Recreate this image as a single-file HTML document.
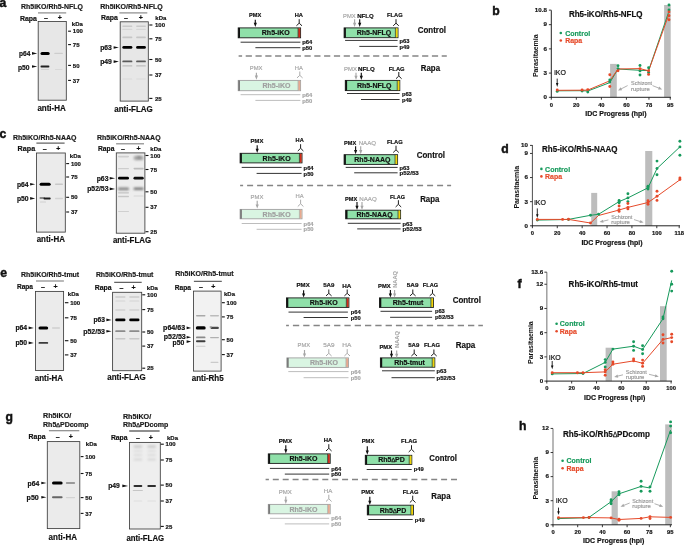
<!DOCTYPE html><html><head><meta charset="utf-8"><style>html,body{margin:0;padding:0;background:#fff;overflow:hidden}svg{display:block;will-change:transform;filter:blur(0.3px)}text{font-family:"Liberation Sans", sans-serif}</style></head><body>
<svg width="685" height="545" viewBox="0 0 685 545">
<defs><filter id="bl" x="-20%" y="-100%" width="140%" height="300%"><feGaussianBlur stdDeviation="0.5"/></filter><filter id="bl2" x="-30%" y="-150%" width="160%" height="400%"><feGaussianBlur stdDeviation="0.9"/></filter><filter id="bl3" x="-40%" y="-200%" width="180%" height="500%"><feGaussianBlur stdDeviation="1.5"/></filter></defs>
<rect width="685" height="545" fill="#fff"/>
<text x="-0.60" y="6.90" font-size="12.2" font-weight="bold" fill="#111" text-anchor="start" stroke="#111" stroke-width="0.45">a</text>
<text x="492.30" y="14.70" font-size="12.2" font-weight="bold" fill="#111" text-anchor="start" stroke="#111" stroke-width="0.45">b</text>
<text x="-0.60" y="138.00" font-size="12.2" font-weight="bold" fill="#111" text-anchor="start" stroke="#111" stroke-width="0.45">c</text>
<text x="501.20" y="153.00" font-size="12.2" font-weight="bold" fill="#111" text-anchor="start" stroke="#111" stroke-width="0.45">d</text>
<text x="0.30" y="277.40" font-size="12.2" font-weight="bold" fill="#111" text-anchor="start" stroke="#111" stroke-width="0.45">e</text>
<text x="517.40" y="288.00" font-size="12.2" font-weight="bold" fill="#111" text-anchor="start" stroke="#111" stroke-width="0.45">f</text>
<text x="5.50" y="420.50" font-size="12.2" font-weight="bold" fill="#111" text-anchor="start" stroke="#111" stroke-width="0.45">g</text>
<text x="519.00" y="430.30" font-size="12.2" font-weight="bold" fill="#111" text-anchor="start" stroke="#111" stroke-width="0.45">h</text>
<text x="21.00" y="9.03" font-size="6.8" font-weight="bold" fill="#1a1a1a" text-anchor="start" textLength="61.90" lengthAdjust="spacingAndGlyphs" stroke="#1a1a1a" stroke-width="0.18">Rh5iKO/Rh5-NFLQ</text>
<line x1="38.00" y1="12.90" x2="66.20" y2="12.90" stroke="#8a8a8a" stroke-width="1.2"/>
<text x="19.90" y="20.61" font-size="7.0" font-weight="bold" fill="#111" text-anchor="start" textLength="17.00" lengthAdjust="spacingAndGlyphs" stroke="#111" stroke-width="0.18">Rapa</text>
<text x="46.00" y="20.11" font-size="7.0" font-weight="bold" fill="#111" text-anchor="middle" stroke="#111" stroke-width="0.18">–</text>
<text x="59.90" y="20.11" font-size="7.0" font-weight="bold" fill="#111" text-anchor="middle" stroke="#111" stroke-width="0.18">+</text>
<rect x="38.20" y="21.50" width="28.10" height="78.70" fill="#e7e7e7" stroke="#3c3c3c" stroke-width="0.85"/>
<rect x="40.50" y="51.90" width="9.20" height="3.00" rx="1.50" fill="#050505" filter="url(#bl)"/>
<rect x="40.50" y="65.60" width="8.90" height="1.80" rx="0.90" fill="#202020" filter="url(#bl)"/>
<rect x="54.30" y="52.75" width="8.60" height="1.30" rx="0.65" fill="#cdcdcd" filter="url(#bl)"/>
<rect x="41.00" y="69.10" width="8.00" height="1.00" rx="0.50" fill="#d2d2d2" filter="url(#bl)"/>
<rect x="55.00" y="69.10" width="7.50" height="1.00" rx="0.50" fill="#d8d8d8" filter="url(#bl)"/>
<line x1="68.10" y1="31.20" x2="71.00" y2="31.20" stroke="#111" stroke-width="1.1"/>
<text x="72.80" y="33.35" font-size="6.0" font-weight="bold" fill="#111" text-anchor="start" stroke="#111" stroke-width="0.18">100</text>
<line x1="68.10" y1="44.60" x2="71.00" y2="44.60" stroke="#111" stroke-width="1.1"/>
<text x="72.80" y="46.75" font-size="6.0" font-weight="bold" fill="#111" text-anchor="start" stroke="#111" stroke-width="0.18">75</text>
<line x1="68.10" y1="65.40" x2="71.00" y2="65.40" stroke="#111" stroke-width="1.1"/>
<text x="72.80" y="67.55" font-size="6.0" font-weight="bold" fill="#111" text-anchor="start" stroke="#111" stroke-width="0.18">50</text>
<line x1="68.10" y1="80.40" x2="71.00" y2="80.40" stroke="#111" stroke-width="1.1"/>
<text x="72.80" y="82.55" font-size="6.0" font-weight="bold" fill="#111" text-anchor="start" stroke="#111" stroke-width="0.18">37</text>
<text x="71.80" y="26.15" font-size="6.0" font-weight="bold" fill="#111" text-anchor="start" stroke="#111" stroke-width="0.18">kDa</text>
<text x="19.00" y="55.96" font-size="6.6" font-weight="bold" fill="#111" text-anchor="start" textLength="11.40" lengthAdjust="spacingAndGlyphs" stroke="#111" stroke-width="0.18">p64</text>
<path d="M32.00,52.10 L37.20,53.40 L32.00,54.70 Z" fill="#111"/>
<text x="17.90" y="69.66" font-size="6.6" font-weight="bold" fill="#111" text-anchor="start" textLength="11.60" lengthAdjust="spacingAndGlyphs" stroke="#111" stroke-width="0.18">p50</text>
<path d="M32.00,65.20 L37.20,66.50 L32.00,67.80 Z" fill="#111"/>
<text x="37.40" y="110.95" font-size="8.8" font-weight="bold" fill="#111" text-anchor="start" textLength="28.40" lengthAdjust="spacingAndGlyphs" stroke="#111" stroke-width="0.18">anti-HA</text>
<text x="100.30" y="9.03" font-size="6.8" font-weight="bold" fill="#1a1a1a" text-anchor="start" textLength="62.40" lengthAdjust="spacingAndGlyphs" stroke="#1a1a1a" stroke-width="0.18">Rh5iKO/Rh5-NFLQ</text>
<line x1="119.40" y1="12.90" x2="147.30" y2="12.90" stroke="#8a8a8a" stroke-width="1.2"/>
<text x="101.00" y="20.41" font-size="7.0" font-weight="bold" fill="#111" text-anchor="start" textLength="16.90" lengthAdjust="spacingAndGlyphs" stroke="#111" stroke-width="0.18">Rapa</text>
<text x="126.00" y="20.11" font-size="7.0" font-weight="bold" fill="#111" text-anchor="middle" stroke="#111" stroke-width="0.18">–</text>
<text x="140.70" y="20.11" font-size="7.0" font-weight="bold" fill="#111" text-anchor="middle" stroke="#111" stroke-width="0.18">+</text>
<rect x="120.20" y="21.80" width="28.10" height="79.30" fill="#e7e7e7" stroke="#3c3c3c" stroke-width="0.85"/>
<rect x="122.30" y="25.40" width="10.10" height="1.60" rx="0.80" fill="#c9c9c9" filter="url(#bl)"/>
<rect x="122.30" y="28.80" width="10.10" height="1.20" rx="0.60" fill="#d6d6d6" filter="url(#bl)"/>
<rect x="122.30" y="36.60" width="10.10" height="1.60" rx="0.80" fill="#c6c6c6" filter="url(#bl)"/>
<rect x="122.30" y="45.95" width="10.10" height="2.90" rx="1.45" fill="#040404" filter="url(#bl)"/>
<rect x="122.30" y="60.50" width="10.10" height="1.80" rx="0.90" fill="#5a5a5a" filter="url(#bl)"/>
<rect x="122.30" y="65.20" width="10.10" height="1.40" rx="0.70" fill="#bdbdbd" filter="url(#bl)"/>
<rect x="122.30" y="78.50" width="10.10" height="1.00" rx="0.50" fill="#d9d9d9" filter="url(#bl)"/>
<rect x="136.10" y="25.40" width="9.80" height="1.60" rx="0.80" fill="#c9c9c9" filter="url(#bl)"/>
<rect x="136.10" y="28.80" width="9.80" height="1.20" rx="0.60" fill="#d6d6d6" filter="url(#bl)"/>
<rect x="136.10" y="36.60" width="9.80" height="1.60" rx="0.80" fill="#c6c6c6" filter="url(#bl)"/>
<rect x="136.10" y="45.95" width="9.80" height="2.90" rx="1.45" fill="#040404" filter="url(#bl)"/>
<rect x="136.10" y="60.50" width="9.80" height="1.80" rx="0.90" fill="#5a5a5a" filter="url(#bl)"/>
<rect x="136.10" y="65.20" width="9.80" height="1.40" rx="0.70" fill="#bdbdbd" filter="url(#bl)"/>
<rect x="136.10" y="78.50" width="9.80" height="1.00" rx="0.50" fill="#d9d9d9" filter="url(#bl)"/>
<line x1="149.30" y1="25.00" x2="152.40" y2="25.00" stroke="#111" stroke-width="1.1"/>
<text x="155.00" y="27.15" font-size="6.0" font-weight="bold" fill="#111" text-anchor="start" stroke="#111" stroke-width="0.18">100</text>
<line x1="149.30" y1="38.80" x2="152.40" y2="38.80" stroke="#111" stroke-width="1.1"/>
<text x="155.00" y="40.95" font-size="6.0" font-weight="bold" fill="#111" text-anchor="start" stroke="#111" stroke-width="0.18">75</text>
<line x1="149.30" y1="59.50" x2="152.40" y2="59.50" stroke="#111" stroke-width="1.1"/>
<text x="155.00" y="61.65" font-size="6.0" font-weight="bold" fill="#111" text-anchor="start" stroke="#111" stroke-width="0.18">50</text>
<line x1="149.30" y1="75.00" x2="152.40" y2="75.00" stroke="#111" stroke-width="1.1"/>
<text x="155.00" y="77.15" font-size="6.0" font-weight="bold" fill="#111" text-anchor="start" stroke="#111" stroke-width="0.18">37</text>
<line x1="149.30" y1="98.40" x2="152.40" y2="98.40" stroke="#111" stroke-width="1.1"/>
<text x="155.00" y="100.55" font-size="6.0" font-weight="bold" fill="#111" text-anchor="start" stroke="#111" stroke-width="0.18">25</text>
<text x="155.30" y="20.25" font-size="6.0" font-weight="bold" fill="#111" text-anchor="start" stroke="#111" stroke-width="0.18">kDa</text>
<text x="100.20" y="50.36" font-size="6.6" font-weight="bold" fill="#111" text-anchor="start" textLength="11.70" lengthAdjust="spacingAndGlyphs" stroke="#111" stroke-width="0.18">p63</text>
<path d="M113.60,46.20 L118.90,47.50 L113.60,48.80 Z" fill="#111"/>
<text x="100.20" y="64.36" font-size="6.6" font-weight="bold" fill="#111" text-anchor="start" textLength="11.70" lengthAdjust="spacingAndGlyphs" stroke="#111" stroke-width="0.18">p49</text>
<path d="M113.60,60.30 L118.90,61.60 L113.60,62.90 Z" fill="#111"/>
<text x="114.20" y="112.35" font-size="8.8" font-weight="bold" fill="#111" text-anchor="start" textLength="38.60" lengthAdjust="spacingAndGlyphs" stroke="#111" stroke-width="0.18">anti-FLAG</text>
<text x="12.90" y="139.73" font-size="6.8" font-weight="bold" fill="#1a1a1a" text-anchor="start" textLength="63.50" lengthAdjust="spacingAndGlyphs" stroke="#1a1a1a" stroke-width="0.18">Rh5iKO/Rh5-NAAQ</text>
<line x1="36.40" y1="143.10" x2="64.60" y2="143.10" stroke="#333" stroke-width="0.95"/>
<text x="17.60" y="151.11" font-size="7.0" font-weight="bold" fill="#111" text-anchor="start" textLength="17.60" lengthAdjust="spacingAndGlyphs" stroke="#111" stroke-width="0.18">Rapa</text>
<text x="44.80" y="150.71" font-size="7.0" font-weight="bold" fill="#111" text-anchor="middle" stroke="#111" stroke-width="0.18">–</text>
<text x="58.40" y="150.71" font-size="7.0" font-weight="bold" fill="#111" text-anchor="middle" stroke="#111" stroke-width="0.18">+</text>
<rect x="36.50" y="153.00" width="28.80" height="79.10" fill="#ebebeb" stroke="#3c3c3c" stroke-width="0.85"/>
<rect x="39.60" y="182.80" width="11.10" height="3.00" rx="1.50" fill="#040404" filter="url(#bl)"/>
<rect x="55.00" y="183.60" width="8.00" height="1.40" rx="0.70" fill="#c8c8c8" filter="url(#bl)"/>
<rect x="39.50" y="197.10" width="5.50" height="1.80" rx="0.90" fill="#8a8a8a" filter="url(#bl)"/>
<rect x="43.50" y="197.50" width="7.20" height="2.00" rx="1.00" fill="#1e1e1e" filter="url(#bl)"/>
<rect x="55.00" y="197.85" width="8.00" height="1.30" rx="0.65" fill="#d2d2d2" filter="url(#bl)"/>
<rect x="40.00" y="201.50" width="6.00" height="1.00" rx="0.50" fill="#cfcfcf" filter="url(#bl)"/>
<line x1="66.20" y1="163.60" x2="69.10" y2="163.60" stroke="#111" stroke-width="1.1"/>
<text x="70.90" y="165.75" font-size="6.0" font-weight="bold" fill="#111" text-anchor="start" stroke="#111" stroke-width="0.18">100</text>
<line x1="66.20" y1="177.00" x2="69.10" y2="177.00" stroke="#111" stroke-width="1.1"/>
<text x="70.90" y="179.15" font-size="6.0" font-weight="bold" fill="#111" text-anchor="start" stroke="#111" stroke-width="0.18">75</text>
<line x1="66.20" y1="197.30" x2="69.10" y2="197.30" stroke="#111" stroke-width="1.1"/>
<text x="70.90" y="199.45" font-size="6.0" font-weight="bold" fill="#111" text-anchor="start" stroke="#111" stroke-width="0.18">50</text>
<line x1="66.20" y1="212.00" x2="69.10" y2="212.00" stroke="#111" stroke-width="1.1"/>
<text x="70.90" y="214.15" font-size="6.0" font-weight="bold" fill="#111" text-anchor="start" stroke="#111" stroke-width="0.18">37</text>
<text x="69.80" y="158.15" font-size="6.0" font-weight="bold" fill="#111" text-anchor="start" stroke="#111" stroke-width="0.18">kDa</text>
<text x="16.90" y="186.76" font-size="6.6" font-weight="bold" fill="#111" text-anchor="start" textLength="11.70" lengthAdjust="spacingAndGlyphs" stroke="#111" stroke-width="0.18">p64</text>
<path d="M30.10,183.00 L35.20,184.30 L30.10,185.60 Z" fill="#111"/>
<text x="16.90" y="200.96" font-size="6.6" font-weight="bold" fill="#111" text-anchor="start" textLength="11.70" lengthAdjust="spacingAndGlyphs" stroke="#111" stroke-width="0.18">p50</text>
<path d="M30.10,197.10 L35.20,198.40 L30.10,199.70 Z" fill="#111"/>
<text x="36.70" y="241.85" font-size="8.8" font-weight="bold" fill="#111" text-anchor="start" textLength="28.20" lengthAdjust="spacingAndGlyphs" stroke="#111" stroke-width="0.18">anti-HA</text>
<text x="97.00" y="139.93" font-size="6.8" font-weight="bold" fill="#1a1a1a" text-anchor="start" textLength="63.60" lengthAdjust="spacingAndGlyphs" stroke="#1a1a1a" stroke-width="0.18">Rh5iKO/Rh5-NAAQ</text>
<line x1="116.10" y1="143.80" x2="144.00" y2="143.80" stroke="#8a8a8a" stroke-width="1.2"/>
<text x="97.90" y="151.01" font-size="7.0" font-weight="bold" fill="#111" text-anchor="start" textLength="16.50" lengthAdjust="spacingAndGlyphs" stroke="#111" stroke-width="0.18">Rapa</text>
<text x="122.90" y="150.71" font-size="7.0" font-weight="bold" fill="#111" text-anchor="middle" stroke="#111" stroke-width="0.18">–</text>
<text x="138.60" y="150.71" font-size="7.0" font-weight="bold" fill="#111" text-anchor="middle" stroke="#111" stroke-width="0.18">+</text>
<rect x="116.30" y="152.90" width="28.60" height="80.30" fill="#ededed" stroke="#3c3c3c" stroke-width="0.85"/>
<rect x="118.00" y="155.80" width="11.00" height="1.60" rx="0.80" fill="#cfcfcf" filter="url(#bl)"/>
<rect x="133.50" y="155.75" width="10.20" height="4.50" rx="2.25" fill="#a8a8a8" filter="url(#bl2)"/>
<rect x="137.00" y="156.50" width="4.00" height="2.00" rx="1.00" fill="#808080" filter="url(#bl2)"/>
<rect x="118.00" y="167.90" width="11.00" height="1.40" rx="0.70" fill="#cdcdcd" filter="url(#bl)"/>
<rect x="133.50" y="167.80" width="10.20" height="1.60" rx="0.80" fill="#bdbdbd" filter="url(#bl)"/>
<rect x="118.00" y="176.80" width="11.00" height="2.80" rx="1.40" fill="#050505" filter="url(#bl)"/>
<rect x="133.50" y="176.80" width="10.20" height="2.80" rx="1.40" fill="#080808" filter="url(#bl)"/>
<rect x="118.00" y="187.60" width="11.00" height="2.60" rx="1.30" fill="#858585" filter="url(#bl2)"/>
<rect x="133.50" y="187.40" width="10.20" height="2.60" rx="1.30" fill="#767676" filter="url(#bl2)"/>
<rect x="118.00" y="192.20" width="11.00" height="1.20" rx="0.60" fill="#c4c4c4" filter="url(#bl)"/>
<rect x="118.00" y="195.80" width="11.00" height="1.40" rx="0.70" fill="#c6c6c6" filter="url(#bl)"/>
<rect x="133.50" y="195.50" width="10.20" height="1.00" rx="0.50" fill="#d6d6d6" filter="url(#bl)"/>
<rect x="118.00" y="210.90" width="11.00" height="1.20" rx="0.60" fill="#d0d0d0" filter="url(#bl)"/>
<line x1="145.50" y1="155.50" x2="148.50" y2="155.50" stroke="#111" stroke-width="1.1"/>
<text x="150.30" y="157.65" font-size="6.0" font-weight="bold" fill="#111" text-anchor="start" stroke="#111" stroke-width="0.18">100</text>
<line x1="145.50" y1="169.50" x2="148.50" y2="169.50" stroke="#111" stroke-width="1.1"/>
<text x="150.30" y="171.65" font-size="6.0" font-weight="bold" fill="#111" text-anchor="start" stroke="#111" stroke-width="0.18">75</text>
<line x1="145.50" y1="191.80" x2="148.50" y2="191.80" stroke="#111" stroke-width="1.1"/>
<text x="150.30" y="193.95" font-size="6.0" font-weight="bold" fill="#111" text-anchor="start" stroke="#111" stroke-width="0.18">50</text>
<line x1="145.50" y1="207.30" x2="148.50" y2="207.30" stroke="#111" stroke-width="1.1"/>
<text x="150.30" y="209.45" font-size="6.0" font-weight="bold" fill="#111" text-anchor="start" stroke="#111" stroke-width="0.18">37</text>
<line x1="145.50" y1="231.70" x2="148.50" y2="231.70" stroke="#111" stroke-width="1.1"/>
<text x="150.30" y="233.85" font-size="6.0" font-weight="bold" fill="#111" text-anchor="start" stroke="#111" stroke-width="0.18">25</text>
<text x="150.30" y="150.65" font-size="6.0" font-weight="bold" fill="#111" text-anchor="start" stroke="#111" stroke-width="0.18">kDa</text>
<text x="96.70" y="180.76" font-size="6.6" font-weight="bold" fill="#111" text-anchor="start" textLength="11.80" lengthAdjust="spacingAndGlyphs" stroke="#111" stroke-width="0.18">p63</text>
<path d="M109.70,176.90 L115.10,178.20 L109.70,179.50 Z" fill="#111"/>
<text x="87.20" y="191.36" font-size="6.6" font-weight="bold" fill="#111" text-anchor="start" textLength="21.30" lengthAdjust="spacingAndGlyphs" stroke="#111" stroke-width="0.18">p52/53</text>
<path d="M109.70,187.60 L115.10,188.90 L109.70,190.20 Z" fill="#111"/>
<text x="112.90" y="243.15" font-size="8.8" font-weight="bold" fill="#111" text-anchor="start" textLength="38.20" lengthAdjust="spacingAndGlyphs" stroke="#111" stroke-width="0.18">anti-FLAG</text>
<text x="21.00" y="276.83" font-size="6.8" font-weight="bold" fill="#1a1a1a" text-anchor="start" textLength="58.20" lengthAdjust="spacingAndGlyphs" stroke="#1a1a1a" stroke-width="0.18">Rh5iKO/Rh5-tmut</text>
<line x1="36.00" y1="281.00" x2="63.90" y2="281.00" stroke="#8a8a8a" stroke-width="1.2"/>
<text x="16.90" y="288.81" font-size="7.0" font-weight="bold" fill="#111" text-anchor="start" textLength="16.10" lengthAdjust="spacingAndGlyphs" stroke="#111" stroke-width="0.18">Rapa</text>
<text x="42.90" y="288.51" font-size="7.0" font-weight="bold" fill="#111" text-anchor="middle" stroke="#111" stroke-width="0.18">–</text>
<text x="55.50" y="288.51" font-size="7.0" font-weight="bold" fill="#111" text-anchor="middle" stroke="#111" stroke-width="0.18">+</text>
<rect x="35.50" y="291.40" width="28.10" height="79.10" fill="#ebebeb" stroke="#3c3c3c" stroke-width="0.85"/>
<rect x="38.50" y="326.50" width="9.70" height="3.00" rx="1.50" fill="#040404" filter="url(#bl)"/>
<rect x="52.00" y="327.35" width="8.00" height="1.30" rx="0.65" fill="#cfcfcf" filter="url(#bl)"/>
<rect x="38.50" y="341.95" width="9.70" height="1.90" rx="0.95" fill="#3a3a3a" filter="url(#bl)"/>
<line x1="64.90" y1="302.70" x2="68.40" y2="302.70" stroke="#111" stroke-width="1.1"/>
<text x="70.20" y="304.85" font-size="6.0" font-weight="bold" fill="#111" text-anchor="start" stroke="#111" stroke-width="0.18">100</text>
<line x1="64.90" y1="317.80" x2="68.40" y2="317.80" stroke="#111" stroke-width="1.1"/>
<text x="70.20" y="319.95" font-size="6.0" font-weight="bold" fill="#111" text-anchor="start" stroke="#111" stroke-width="0.18">75</text>
<line x1="64.90" y1="340.70" x2="68.40" y2="340.70" stroke="#111" stroke-width="1.1"/>
<text x="70.20" y="342.85" font-size="6.0" font-weight="bold" fill="#111" text-anchor="start" stroke="#111" stroke-width="0.18">50</text>
<line x1="64.90" y1="354.90" x2="68.40" y2="354.90" stroke="#111" stroke-width="1.1"/>
<text x="70.20" y="357.05" font-size="6.0" font-weight="bold" fill="#111" text-anchor="start" stroke="#111" stroke-width="0.18">37</text>
<text x="67.80" y="296.05" font-size="6.0" font-weight="bold" fill="#111" text-anchor="start" stroke="#111" stroke-width="0.18">kDa</text>
<text x="15.40" y="330.36" font-size="6.6" font-weight="bold" fill="#111" text-anchor="start" textLength="11.80" lengthAdjust="spacingAndGlyphs" stroke="#111" stroke-width="0.18">p64</text>
<path d="M28.60,326.60 L33.80,327.90 L28.60,329.20 Z" fill="#111"/>
<text x="15.40" y="345.36" font-size="6.6" font-weight="bold" fill="#111" text-anchor="start" textLength="11.80" lengthAdjust="spacingAndGlyphs" stroke="#111" stroke-width="0.18">p50</text>
<path d="M28.60,341.60 L33.80,342.90 L28.60,344.20 Z" fill="#111"/>
<text x="34.80" y="380.55" font-size="8.8" font-weight="bold" fill="#111" text-anchor="start" textLength="28.30" lengthAdjust="spacingAndGlyphs" stroke="#111" stroke-width="0.18">anti-HA</text>
<text x="95.90" y="277.13" font-size="6.8" font-weight="bold" fill="#1a1a1a" text-anchor="start" textLength="57.50" lengthAdjust="spacingAndGlyphs" stroke="#1a1a1a" stroke-width="0.18">Rh5iKO/Rh5-tmut</text>
<line x1="114.20" y1="282.30" x2="141.70" y2="282.30" stroke="#333" stroke-width="0.95"/>
<text x="94.70" y="290.41" font-size="7.0" font-weight="bold" fill="#111" text-anchor="start" textLength="16.90" lengthAdjust="spacingAndGlyphs" stroke="#111" stroke-width="0.18">Rapa</text>
<text x="121.40" y="290.01" font-size="7.0" font-weight="bold" fill="#111" text-anchor="middle" stroke="#111" stroke-width="0.18">–</text>
<text x="133.60" y="290.01" font-size="7.0" font-weight="bold" fill="#111" text-anchor="middle" stroke="#111" stroke-width="0.18">+</text>
<rect x="112.60" y="292.30" width="29.10" height="78.40" fill="#eaeaea" stroke="#3c3c3c" stroke-width="0.85"/>
<rect x="115.20" y="296.20" width="10.30" height="1.60" rx="0.80" fill="#cbcbcb" filter="url(#bl)"/>
<rect x="115.20" y="300.40" width="10.30" height="1.20" rx="0.60" fill="#d6d6d6" filter="url(#bl)"/>
<rect x="115.20" y="309.30" width="10.30" height="1.40" rx="0.70" fill="#d2d2d2" filter="url(#bl)"/>
<rect x="115.20" y="318.50" width="10.30" height="2.80" rx="1.40" fill="#050505" filter="url(#bl)"/>
<rect x="115.20" y="330.30" width="10.30" height="1.80" rx="0.90" fill="#8c8c8c" filter="url(#bl)"/>
<rect x="115.20" y="338.10" width="10.30" height="1.40" rx="0.70" fill="#c8c8c8" filter="url(#bl)"/>
<rect x="129.20" y="296.20" width="10.30" height="1.60" rx="0.80" fill="#cbcbcb" filter="url(#bl)"/>
<rect x="129.20" y="300.40" width="10.30" height="1.20" rx="0.60" fill="#d6d6d6" filter="url(#bl)"/>
<rect x="129.20" y="309.30" width="10.30" height="1.40" rx="0.70" fill="#d2d2d2" filter="url(#bl)"/>
<rect x="129.20" y="318.50" width="10.30" height="2.80" rx="1.40" fill="#050505" filter="url(#bl)"/>
<rect x="129.20" y="330.30" width="10.30" height="1.80" rx="0.90" fill="#8c8c8c" filter="url(#bl)"/>
<rect x="129.20" y="338.10" width="10.30" height="1.40" rx="0.70" fill="#c8c8c8" filter="url(#bl)"/>
<line x1="142.30" y1="294.80" x2="145.20" y2="294.80" stroke="#111" stroke-width="1.1"/>
<text x="147.00" y="296.95" font-size="6.0" font-weight="bold" fill="#111" text-anchor="start" stroke="#111" stroke-width="0.18">100</text>
<line x1="142.30" y1="309.60" x2="145.20" y2="309.60" stroke="#111" stroke-width="1.1"/>
<text x="147.00" y="311.75" font-size="6.0" font-weight="bold" fill="#111" text-anchor="start" stroke="#111" stroke-width="0.18">75</text>
<line x1="142.30" y1="332.00" x2="145.20" y2="332.00" stroke="#111" stroke-width="1.1"/>
<text x="147.00" y="334.15" font-size="6.0" font-weight="bold" fill="#111" text-anchor="start" stroke="#111" stroke-width="0.18">50</text>
<line x1="142.30" y1="346.10" x2="145.20" y2="346.10" stroke="#111" stroke-width="1.1"/>
<text x="147.00" y="348.25" font-size="6.0" font-weight="bold" fill="#111" text-anchor="start" stroke="#111" stroke-width="0.18">37</text>
<line x1="142.30" y1="368.20" x2="145.20" y2="368.20" stroke="#111" stroke-width="1.1"/>
<text x="147.00" y="370.35" font-size="6.0" font-weight="bold" fill="#111" text-anchor="start" stroke="#111" stroke-width="0.18">25</text>
<text x="146.80" y="290.05" font-size="6.0" font-weight="bold" fill="#111" text-anchor="start" stroke="#111" stroke-width="0.18">kDa</text>
<text x="93.50" y="322.36" font-size="6.6" font-weight="bold" fill="#111" text-anchor="start" textLength="11.50" lengthAdjust="spacingAndGlyphs" stroke="#111" stroke-width="0.18">p63</text>
<path d="M106.40,318.60 L111.60,319.90 L106.40,321.20 Z" fill="#111"/>
<text x="83.20" y="333.86" font-size="6.6" font-weight="bold" fill="#111" text-anchor="start" textLength="21.80" lengthAdjust="spacingAndGlyphs" stroke="#111" stroke-width="0.18">p52/53</text>
<path d="M106.40,329.90 L111.60,331.20 L106.40,332.50 Z" fill="#111"/>
<text x="107.20" y="380.45" font-size="8.8" font-weight="bold" fill="#111" text-anchor="start" textLength="38.60" lengthAdjust="spacingAndGlyphs" stroke="#111" stroke-width="0.18">anti-FLAG</text>
<text x="175.30" y="275.93" font-size="6.8" font-weight="bold" fill="#1a1a1a" text-anchor="start" textLength="58.30" lengthAdjust="spacingAndGlyphs" stroke="#1a1a1a" stroke-width="0.18">Rh5iKO/Rh5-tmut</text>
<line x1="193.90" y1="281.30" x2="221.80" y2="281.30" stroke="#333" stroke-width="0.95"/>
<text x="174.80" y="289.71" font-size="7.0" font-weight="bold" fill="#111" text-anchor="start" textLength="16.20" lengthAdjust="spacingAndGlyphs" stroke="#111" stroke-width="0.18">Rapa</text>
<text x="201.00" y="289.31" font-size="7.0" font-weight="bold" fill="#111" text-anchor="middle" stroke="#111" stroke-width="0.18">–</text>
<text x="213.40" y="289.31" font-size="7.0" font-weight="bold" fill="#111" text-anchor="middle" stroke="#111" stroke-width="0.18">+</text>
<rect x="193.50" y="291.10" width="27.60" height="80.00" fill="#f2f2f2" stroke="#3c3c3c" stroke-width="0.85"/>
<rect x="196.00" y="315.00" width="9.50" height="1.60" rx="0.80" fill="#a9a9a9" filter="url(#bl)"/>
<rect x="210.00" y="315.10" width="9.00" height="1.40" rx="0.70" fill="#bcbcbc" filter="url(#bl)"/>
<rect x="195.80" y="326.30" width="9.90" height="3.20" rx="1.60" fill="#030303" filter="url(#bl)"/>
<rect x="210.50" y="326.80" width="8.40" height="2.20" rx="1.10" fill="#4a4a4a" filter="url(#bl)"/>
<rect x="209.50" y="326.30" width="2.50" height="1.40" rx="0.70" fill="#999999" filter="url(#bl)"/>
<rect x="196.00" y="336.50" width="9.50" height="1.80" rx="0.90" fill="#8a8a8a" filter="url(#bl)"/>
<rect x="210.00" y="336.90" width="9.00" height="1.40" rx="0.70" fill="#b0b0b0" filter="url(#bl)"/>
<rect x="196.00" y="340.35" width="9.50" height="1.90" rx="0.95" fill="#3c3c3c" filter="url(#bl)"/>
<rect x="196.00" y="345.70" width="9.50" height="1.00" rx="0.50" fill="#cdcdcd" filter="url(#bl)"/>
<rect x="210.50" y="361.70" width="8.00" height="1.20" rx="0.60" fill="#cbcbcb" filter="url(#bl)"/>
<line x1="221.90" y1="302.70" x2="224.80" y2="302.70" stroke="#111" stroke-width="1.1"/>
<text x="226.60" y="304.85" font-size="6.0" font-weight="bold" fill="#111" text-anchor="start" stroke="#111" stroke-width="0.18">100</text>
<line x1="221.90" y1="316.90" x2="224.80" y2="316.90" stroke="#111" stroke-width="1.1"/>
<text x="226.60" y="319.05" font-size="6.0" font-weight="bold" fill="#111" text-anchor="start" stroke="#111" stroke-width="0.18">75</text>
<line x1="221.90" y1="339.70" x2="224.80" y2="339.70" stroke="#111" stroke-width="1.1"/>
<text x="226.60" y="341.85" font-size="6.0" font-weight="bold" fill="#111" text-anchor="start" stroke="#111" stroke-width="0.18">50</text>
<line x1="221.90" y1="354.60" x2="224.80" y2="354.60" stroke="#111" stroke-width="1.1"/>
<text x="226.60" y="356.75" font-size="6.0" font-weight="bold" fill="#111" text-anchor="start" stroke="#111" stroke-width="0.18">37</text>
<text x="224.00" y="295.95" font-size="6.0" font-weight="bold" fill="#111" text-anchor="start" stroke="#111" stroke-width="0.18">kDa</text>
<text x="163.10" y="330.26" font-size="6.6" font-weight="bold" fill="#111" text-anchor="start" textLength="22.00" lengthAdjust="spacingAndGlyphs" stroke="#111" stroke-width="0.18">p64/63</text>
<path d="M186.60,326.60 L191.20,327.90 L186.60,329.20 Z" fill="#111"/>
<text x="163.80" y="338.66" font-size="6.6" font-weight="bold" fill="#111" text-anchor="start" textLength="22.00" lengthAdjust="spacingAndGlyphs" stroke="#111" stroke-width="0.18">p52/53</text>
<path d="M186.60,336.00 L191.20,337.30 L186.60,338.60 Z" fill="#111"/>
<text x="172.60" y="344.96" font-size="6.6" font-weight="bold" fill="#111" text-anchor="start" textLength="11.80" lengthAdjust="spacingAndGlyphs" stroke="#111" stroke-width="0.18">p50</text>
<path d="M186.60,340.30 L191.20,341.60 L186.60,342.90 Z" fill="#111"/>
<text x="191.70" y="381.25" font-size="8.8" font-weight="bold" fill="#111" text-anchor="start" textLength="32.00" lengthAdjust="spacingAndGlyphs" stroke="#111" stroke-width="0.18">anti-Rh5</text>
<text x="43.00" y="418.23" font-size="6.8" font-weight="bold" fill="#1a1a1a" text-anchor="start" textLength="28.30" lengthAdjust="spacingAndGlyphs" stroke="#1a1a1a" stroke-width="0.18">Rh5iKO/</text>
<text x="43.00" y="426.83" font-size="6.8" font-weight="bold" fill="#1a1a1a" text-anchor="start" textLength="45.50" lengthAdjust="spacingAndGlyphs" stroke="#1a1a1a" stroke-width="0.18">Rh5<tspan font-weight="normal" stroke-width="0.25" font-size="5.78">∆</tspan>PDcomp</text>
<line x1="48.90" y1="430.70" x2="79.30" y2="430.70" stroke="#8a8a8a" stroke-width="1.2"/>
<text x="28.60" y="439.41" font-size="7.0" font-weight="bold" fill="#111" text-anchor="start" textLength="16.90" lengthAdjust="spacingAndGlyphs" stroke="#111" stroke-width="0.18">Rapa</text>
<text x="57.60" y="439.11" font-size="7.0" font-weight="bold" fill="#111" text-anchor="middle" stroke="#111" stroke-width="0.18">–</text>
<text x="70.80" y="439.11" font-size="7.0" font-weight="bold" fill="#111" text-anchor="middle" stroke="#111" stroke-width="0.18">+</text>
<rect x="47.30" y="441.60" width="32.50" height="87.00" fill="#ebebeb" stroke="#3c3c3c" stroke-width="0.85"/>
<rect x="52.00" y="481.50" width="10.60" height="3.00" rx="1.50" fill="#040404" filter="url(#bl)"/>
<rect x="65.80" y="482.00" width="9.30" height="2.00" rx="1.00" fill="#9a9a9a" filter="url(#bl)"/>
<rect x="52.00" y="496.30" width="10.60" height="2.00" rx="1.00" fill="#666666" filter="url(#bl)"/>
<rect x="65.80" y="496.90" width="9.30" height="1.40" rx="0.70" fill="#d3d3d3" filter="url(#bl)"/>
<line x1="80.70" y1="456.60" x2="83.50" y2="456.60" stroke="#111" stroke-width="1.1"/>
<text x="85.30" y="458.75" font-size="6.0" font-weight="bold" fill="#111" text-anchor="start" stroke="#111" stroke-width="0.18">100</text>
<line x1="80.70" y1="473.50" x2="83.50" y2="473.50" stroke="#111" stroke-width="1.1"/>
<text x="85.30" y="475.65" font-size="6.0" font-weight="bold" fill="#111" text-anchor="start" stroke="#111" stroke-width="0.18">75</text>
<line x1="80.70" y1="497.60" x2="83.50" y2="497.60" stroke="#111" stroke-width="1.1"/>
<text x="85.30" y="499.75" font-size="6.0" font-weight="bold" fill="#111" text-anchor="start" stroke="#111" stroke-width="0.18">50</text>
<line x1="80.70" y1="513.40" x2="83.50" y2="513.40" stroke="#111" stroke-width="1.1"/>
<text x="85.30" y="515.55" font-size="6.0" font-weight="bold" fill="#111" text-anchor="start" stroke="#111" stroke-width="0.18">37</text>
<text x="85.80" y="446.25" font-size="6.0" font-weight="bold" fill="#111" text-anchor="start" stroke="#111" stroke-width="0.18">kDa</text>
<text x="27.60" y="485.56" font-size="6.6" font-weight="bold" fill="#111" text-anchor="start" textLength="11.80" lengthAdjust="spacingAndGlyphs" stroke="#111" stroke-width="0.18">p64</text>
<path d="M41.30,481.70 L46.40,483.00 L41.30,484.30 Z" fill="#111"/>
<text x="26.60" y="499.86" font-size="6.6" font-weight="bold" fill="#111" text-anchor="start" textLength="12.20" lengthAdjust="spacingAndGlyphs" stroke="#111" stroke-width="0.18">p50</text>
<path d="M41.30,496.00 L46.40,497.30 L41.30,498.60 Z" fill="#111"/>
<text x="48.60" y="539.75" font-size="8.8" font-weight="bold" fill="#111" text-anchor="start" textLength="28.40" lengthAdjust="spacingAndGlyphs" stroke="#111" stroke-width="0.18">anti-HA</text>
<text x="122.90" y="418.63" font-size="6.8" font-weight="bold" fill="#1a1a1a" text-anchor="start" textLength="28.30" lengthAdjust="spacingAndGlyphs" stroke="#1a1a1a" stroke-width="0.18">Rh5iKO/</text>
<text x="122.90" y="426.83" font-size="6.8" font-weight="bold" fill="#1a1a1a" text-anchor="start" textLength="45.50" lengthAdjust="spacingAndGlyphs" stroke="#1a1a1a" stroke-width="0.18">Rh5<tspan font-weight="normal" stroke-width="0.25" font-size="5.78">∆</tspan>PDcomp</text>
<line x1="129.20" y1="431.00" x2="159.60" y2="431.00" stroke="#333" stroke-width="1.1"/>
<text x="110.90" y="440.11" font-size="7.0" font-weight="bold" fill="#111" text-anchor="start" textLength="16.70" lengthAdjust="spacingAndGlyphs" stroke="#111" stroke-width="0.18">Rapa</text>
<text x="137.90" y="439.81" font-size="7.0" font-weight="bold" fill="#111" text-anchor="middle" stroke="#111" stroke-width="0.18">–</text>
<text x="150.80" y="439.81" font-size="7.0" font-weight="bold" fill="#111" text-anchor="middle" stroke="#111" stroke-width="0.18">+</text>
<rect x="129.50" y="442.40" width="30.80" height="86.60" fill="#eeeeee" stroke="#3c3c3c" stroke-width="0.85"/>
<rect x="133.50" y="445.30" width="8.80" height="2.60" rx="1.30" fill="#cdcdcd" filter="url(#bl2)"/>
<rect x="133.50" y="450.00" width="8.80" height="2.00" rx="1.00" fill="#dedede" filter="url(#bl2)"/>
<rect x="133.50" y="454.10" width="8.80" height="1.80" rx="0.90" fill="#dcdcdc" filter="url(#bl2)"/>
<rect x="133.50" y="458.60" width="8.80" height="2.00" rx="1.00" fill="#d6d6d6" filter="url(#bl2)"/>
<rect x="133.50" y="484.90" width="8.80" height="2.00" rx="1.00" fill="#2e2e2e" filter="url(#bl)"/>
<rect x="133.50" y="500.50" width="8.80" height="1.00" rx="0.50" fill="#dedede" filter="url(#bl)"/>
<rect x="147.30" y="445.30" width="8.70" height="2.60" rx="1.30" fill="#cdcdcd" filter="url(#bl2)"/>
<rect x="147.30" y="450.00" width="8.70" height="2.00" rx="1.00" fill="#dedede" filter="url(#bl2)"/>
<rect x="147.30" y="454.10" width="8.70" height="1.80" rx="0.90" fill="#dcdcdc" filter="url(#bl2)"/>
<rect x="147.30" y="458.60" width="8.70" height="2.00" rx="1.00" fill="#d6d6d6" filter="url(#bl2)"/>
<rect x="147.30" y="484.90" width="8.70" height="2.00" rx="1.00" fill="#2e2e2e" filter="url(#bl)"/>
<rect x="147.30" y="500.50" width="8.70" height="1.00" rx="0.50" fill="#dedede" filter="url(#bl)"/>
<rect x="132.70" y="489.90" width="10.20" height="1.20" rx="0.60" fill="#c6c6c6" filter="url(#bl)"/>
<line x1="160.70" y1="444.20" x2="163.80" y2="444.20" stroke="#111" stroke-width="1.1"/>
<text x="165.60" y="446.35" font-size="6.0" font-weight="bold" fill="#111" text-anchor="start" stroke="#111" stroke-width="0.18">100</text>
<line x1="160.70" y1="460.00" x2="163.80" y2="460.00" stroke="#111" stroke-width="1.1"/>
<text x="165.60" y="462.15" font-size="6.0" font-weight="bold" fill="#111" text-anchor="start" stroke="#111" stroke-width="0.18">75</text>
<line x1="160.70" y1="485.10" x2="163.80" y2="485.10" stroke="#111" stroke-width="1.1"/>
<text x="165.60" y="487.25" font-size="6.0" font-weight="bold" fill="#111" text-anchor="start" stroke="#111" stroke-width="0.18">50</text>
<line x1="160.70" y1="501.00" x2="163.80" y2="501.00" stroke="#111" stroke-width="1.1"/>
<text x="165.60" y="503.15" font-size="6.0" font-weight="bold" fill="#111" text-anchor="start" stroke="#111" stroke-width="0.18">37</text>
<line x1="160.70" y1="526.40" x2="163.80" y2="526.40" stroke="#111" stroke-width="1.1"/>
<text x="165.60" y="528.55" font-size="6.0" font-weight="bold" fill="#111" text-anchor="start" stroke="#111" stroke-width="0.18">25</text>
<text x="167.00" y="439.75" font-size="6.0" font-weight="bold" fill="#111" text-anchor="start" stroke="#111" stroke-width="0.18">kDa</text>
<text x="108.20" y="488.36" font-size="6.6" font-weight="bold" fill="#111" text-anchor="start" textLength="11.60" lengthAdjust="spacingAndGlyphs" stroke="#111" stroke-width="0.18">p49</text>
<path d="M122.30,484.60 L128.10,485.90 L122.30,487.20 Z" fill="#111"/>
<text x="126.40" y="540.75" font-size="8.8" font-weight="bold" fill="#111" text-anchor="start" textLength="37.70" lengthAdjust="spacingAndGlyphs" stroke="#111" stroke-width="0.18">anti-FLAG</text>
<rect x="238.20" y="27.90" width="62.40" height="9.90" fill="#8fe0a9" stroke="#1a1a1a" stroke-width="0.9"/>
<rect x="238.20" y="27.90" width="1.80" height="9.90" fill="#111" stroke="none" stroke-width="0"/>
<rect x="298.20" y="28.30" width="2.00" height="9.10" fill="#d42a1a" stroke="none" stroke-width="0"/>
<line x1="298.00" y1="27.90" x2="298.00" y2="37.80" stroke="#1a1a1a" stroke-width="0.6"/>
<text x="275.80" y="35.36" font-size="7.0" font-weight="bold" fill="#111" text-anchor="middle" stroke="#111" stroke-width="0.18">Rh5-iKO</text>
<text x="249.00" y="17.42" font-size="6.2" font-weight="bold" fill="#111" text-anchor="start" textLength="12.20" lengthAdjust="spacingAndGlyphs" stroke="#111" stroke-width="0.18">PMX</text>
<line x1="255.30" y1="19.80" x2="255.30" y2="24.20" stroke="#111" stroke-width="1.15"/>
<path d="M253.70,22.80 L256.90,22.80 L255.30,27.00 Z" fill="#111"/>
<text x="294.70" y="17.42" font-size="6.2" font-weight="bold" fill="#111" text-anchor="start" textLength="8.30" lengthAdjust="spacingAndGlyphs" stroke="#111" stroke-width="0.18">HA</text>
<path d="M299.20,19.20 L299.20,23.16 M296.40,25.80 L299.20,23.16 L302.00,25.80" stroke="#111" stroke-width="0.95" fill="none"/>
<line x1="240.60" y1="42.20" x2="300.40" y2="42.20" stroke="#333" stroke-width="1.0"/>
<line x1="255.40" y1="47.70" x2="300.40" y2="47.70" stroke="#333" stroke-width="1.0"/>
<text x="302.20" y="44.38" font-size="5.8" font-weight="bold" fill="#111" text-anchor="start" textLength="10.00" lengthAdjust="spacingAndGlyphs" stroke="#111" stroke-width="0.18">p64</text>
<text x="302.20" y="49.88" font-size="5.8" font-weight="bold" fill="#111" text-anchor="start" textLength="10.00" lengthAdjust="spacingAndGlyphs" stroke="#111" stroke-width="0.18">p50</text>
<rect x="344.10" y="27.90" width="53.90" height="9.80" fill="#8fe0a9" stroke="#1a1a1a" stroke-width="0.9"/>
<rect x="344.10" y="27.90" width="1.80" height="9.80" fill="#111" stroke="none" stroke-width="0"/>
<rect x="395.60" y="28.30" width="2.00" height="9.00" fill="#f2d40a" stroke="none" stroke-width="0"/>
<line x1="395.40" y1="27.90" x2="395.40" y2="37.70" stroke="#1a1a1a" stroke-width="0.6"/>
<text x="374.00" y="35.31" font-size="7.0" font-weight="bold" fill="#111" text-anchor="middle" stroke="#111" stroke-width="0.18">Rh5-NFLQ</text>
<text x="343.10" y="17.92" font-size="6.2" font-weight="normal" fill="#a6a6a6" text-anchor="start" textLength="12.50" lengthAdjust="spacingAndGlyphs" stroke="#a6a6a6" stroke-width="0.18">PMX</text>
<text x="357.20" y="17.92" font-size="6.2" font-weight="bold" fill="#111" text-anchor="start" textLength="16.40" lengthAdjust="spacingAndGlyphs" stroke="#111" stroke-width="0.18">NFLQ</text>
<line x1="354.60" y1="19.20" x2="354.60" y2="24.20" stroke="#a6a6a6" stroke-width="1.15"/>
<path d="M353.00,22.80 L356.20,22.80 L354.60,27.00 Z" fill="#a6a6a6"/>
<line x1="359.70" y1="19.20" x2="359.70" y2="24.20" stroke="#111" stroke-width="1.15"/>
<path d="M358.10,22.80 L361.30,22.80 L359.70,27.00 Z" fill="#111"/>
<text x="387.10" y="17.32" font-size="6.2" font-weight="bold" fill="#111" text-anchor="start" textLength="15.60" lengthAdjust="spacingAndGlyphs" stroke="#111" stroke-width="0.18">FLAG</text>
<path d="M396.00,19.20 L396.00,23.16 M393.20,25.80 L396.00,23.16 L398.80,25.80" stroke="#111" stroke-width="0.95" fill="none"/>
<line x1="345.10" y1="40.40" x2="397.60" y2="40.40" stroke="#333" stroke-width="1.0"/>
<line x1="359.30" y1="46.40" x2="397.60" y2="46.40" stroke="#333" stroke-width="1.0"/>
<text x="399.60" y="42.68" font-size="5.8" font-weight="bold" fill="#111" text-anchor="start" textLength="9.90" lengthAdjust="spacingAndGlyphs" stroke="#111" stroke-width="0.18">p63</text>
<text x="399.60" y="48.68" font-size="5.8" font-weight="bold" fill="#111" text-anchor="start" textLength="9.90" lengthAdjust="spacingAndGlyphs" stroke="#111" stroke-width="0.18">p49</text>
<text x="417.80" y="33.12" font-size="9.0" font-weight="bold" fill="#111" text-anchor="start" textLength="28.20" lengthAdjust="spacingAndGlyphs" stroke="#111" stroke-width="0.18">Control</text>
<line x1="238.60" y1="56.00" x2="446.80" y2="56.00" stroke="#858585" stroke-width="1.5" stroke-dasharray="6.2 3.6" stroke-dashoffset="2.7"/>
<rect x="238.20" y="80.40" width="62.40" height="10.30" fill="#d9f5e2" stroke="#a0a0a0" stroke-width="0.9"/>
<rect x="238.20" y="80.40" width="1.80" height="10.30" fill="#7a7a7a" stroke="none" stroke-width="0"/>
<rect x="298.20" y="80.80" width="2.00" height="9.50" fill="#e8a990" stroke="none" stroke-width="0"/>
<line x1="298.00" y1="80.40" x2="298.00" y2="90.70" stroke="#a0a0a0" stroke-width="0.6"/>
<text x="276.50" y="88.06" font-size="7.0" font-weight="bold" fill="#a0a0a0" text-anchor="middle" stroke="#a0a0a0" stroke-width="0.18">Rh5-iKO</text>
<text x="249.80" y="70.42" font-size="6.2" font-weight="normal" fill="#a6a6a6" text-anchor="start" textLength="12.60" lengthAdjust="spacingAndGlyphs" stroke="#a6a6a6" stroke-width="0.18">PMX</text>
<line x1="256.40" y1="72.80" x2="256.40" y2="77.00" stroke="#a6a6a6" stroke-width="1.15"/>
<path d="M254.80,75.60 L258.00,75.60 L256.40,79.80 Z" fill="#a6a6a6"/>
<text x="294.80" y="69.92" font-size="6.2" font-weight="normal" fill="#a6a6a6" text-anchor="start" textLength="8.10" lengthAdjust="spacingAndGlyphs" stroke="#a6a6a6" stroke-width="0.18">HA</text>
<path d="M299.80,71.50 L299.80,75.34 M297.00,77.90 L299.80,75.34 L302.60,77.90" stroke="#a6a6a6" stroke-width="0.95" fill="none"/>
<line x1="240.60" y1="94.70" x2="300.40" y2="94.70" stroke="#bdbdbd" stroke-width="1.0"/>
<line x1="255.40" y1="100.40" x2="300.40" y2="100.40" stroke="#bdbdbd" stroke-width="1.0"/>
<text x="302.20" y="96.88" font-size="5.8" font-weight="bold" fill="#a6a6a6" text-anchor="start" textLength="10.00" lengthAdjust="spacingAndGlyphs" stroke="#a6a6a6" stroke-width="0.18">p64</text>
<text x="302.20" y="102.58" font-size="5.8" font-weight="bold" fill="#a6a6a6" text-anchor="start" textLength="10.00" lengthAdjust="spacingAndGlyphs" stroke="#a6a6a6" stroke-width="0.18">p50</text>
<rect x="345.30" y="80.40" width="54.50" height="10.20" fill="#8fe0a9" stroke="#1a1a1a" stroke-width="0.9"/>
<rect x="345.30" y="80.40" width="1.80" height="10.20" fill="#111" stroke="none" stroke-width="0"/>
<rect x="397.40" y="80.80" width="2.00" height="9.40" fill="#f2d40a" stroke="none" stroke-width="0"/>
<line x1="397.20" y1="80.40" x2="397.20" y2="90.60" stroke="#1a1a1a" stroke-width="0.6"/>
<text x="374.20" y="88.01" font-size="7.0" font-weight="bold" fill="#111" text-anchor="middle" stroke="#111" stroke-width="0.18">Rh5-NFLQ</text>
<text x="344.10" y="71.02" font-size="6.2" font-weight="normal" fill="#a6a6a6" text-anchor="start" textLength="12.80" lengthAdjust="spacingAndGlyphs" stroke="#a6a6a6" stroke-width="0.18">PMX</text>
<text x="358.10" y="71.02" font-size="6.2" font-weight="bold" fill="#111" text-anchor="start" textLength="16.70" lengthAdjust="spacingAndGlyphs" stroke="#111" stroke-width="0.18">NFLQ</text>
<line x1="356.00" y1="72.80" x2="356.00" y2="77.20" stroke="#a6a6a6" stroke-width="1.15"/>
<path d="M354.40,75.80 L357.60,75.80 L356.00,80.00 Z" fill="#a6a6a6"/>
<line x1="361.30" y1="72.80" x2="361.30" y2="77.20" stroke="#111" stroke-width="1.15"/>
<path d="M359.70,75.80 L362.90,75.80 L361.30,80.00 Z" fill="#111"/>
<text x="388.80" y="70.62" font-size="6.2" font-weight="bold" fill="#111" text-anchor="start" textLength="15.80" lengthAdjust="spacingAndGlyphs" stroke="#111" stroke-width="0.18">FLAG</text>
<path d="M398.80,72.00 L398.80,76.02 M396.00,78.70 L398.80,76.02 L401.60,78.70" stroke="#111" stroke-width="0.95" fill="none"/>
<line x1="347.00" y1="93.50" x2="399.60" y2="93.50" stroke="#333" stroke-width="1.0"/>
<line x1="361.00" y1="99.50" x2="399.60" y2="99.50" stroke="#333" stroke-width="1.0"/>
<text x="401.90" y="95.98" font-size="5.8" font-weight="bold" fill="#111" text-anchor="start" textLength="9.90" lengthAdjust="spacingAndGlyphs" stroke="#111" stroke-width="0.18">p63</text>
<text x="401.90" y="101.88" font-size="5.8" font-weight="bold" fill="#111" text-anchor="start" textLength="9.90" lengthAdjust="spacingAndGlyphs" stroke="#111" stroke-width="0.18">p49</text>
<text x="420.80" y="71.42" font-size="9.0" font-weight="bold" fill="#111" text-anchor="start" textLength="19.20" lengthAdjust="spacingAndGlyphs" stroke="#111" stroke-width="0.18">Rapa</text>
<rect x="240.10" y="153.30" width="61.90" height="9.60" fill="#8fe0a9" stroke="#1a1a1a" stroke-width="0.9"/>
<rect x="240.10" y="153.30" width="1.80" height="9.60" fill="#111" stroke="none" stroke-width="0"/>
<rect x="299.60" y="153.70" width="2.00" height="8.80" fill="#d42a1a" stroke="none" stroke-width="0"/>
<line x1="299.40" y1="153.30" x2="299.40" y2="162.90" stroke="#1a1a1a" stroke-width="0.6"/>
<text x="276.60" y="160.61" font-size="7.0" font-weight="bold" fill="#111" text-anchor="middle" stroke="#111" stroke-width="0.18">Rh5-iKO</text>
<text x="250.60" y="143.32" font-size="6.2" font-weight="bold" fill="#111" text-anchor="start" textLength="12.70" lengthAdjust="spacingAndGlyphs" stroke="#111" stroke-width="0.18">PMX</text>
<line x1="257.20" y1="145.20" x2="257.20" y2="150.20" stroke="#111" stroke-width="1.15"/>
<path d="M255.60,148.80 L258.80,148.80 L257.20,153.00 Z" fill="#111"/>
<text x="295.60" y="142.32" font-size="6.2" font-weight="bold" fill="#111" text-anchor="start" textLength="8.10" lengthAdjust="spacingAndGlyphs" stroke="#111" stroke-width="0.18">HA</text>
<path d="M300.60,144.20 L300.60,148.28 M297.80,151.00 L300.60,148.28 L303.40,151.00" stroke="#111" stroke-width="0.95" fill="none"/>
<line x1="241.70" y1="167.40" x2="301.60" y2="167.40" stroke="#333" stroke-width="1.0"/>
<line x1="256.60" y1="173.40" x2="301.60" y2="173.40" stroke="#333" stroke-width="1.0"/>
<text x="303.60" y="169.68" font-size="5.8" font-weight="bold" fill="#111" text-anchor="start" textLength="10.00" lengthAdjust="spacingAndGlyphs" stroke="#111" stroke-width="0.18">p64</text>
<text x="303.60" y="175.68" font-size="5.8" font-weight="bold" fill="#111" text-anchor="start" textLength="10.00" lengthAdjust="spacingAndGlyphs" stroke="#111" stroke-width="0.18">p50</text>
<rect x="344.10" y="154.70" width="53.50" height="9.70" fill="#8fe0a9" stroke="#1a1a1a" stroke-width="0.9"/>
<rect x="344.10" y="154.70" width="1.80" height="9.70" fill="#111" stroke="none" stroke-width="0"/>
<rect x="395.20" y="155.10" width="2.00" height="8.90" fill="#f2d40a" stroke="none" stroke-width="0"/>
<line x1="395.00" y1="154.70" x2="395.00" y2="164.40" stroke="#1a1a1a" stroke-width="0.6"/>
<text x="372.40" y="162.06" font-size="7.0" font-weight="bold" fill="#111" text-anchor="middle" stroke="#111" stroke-width="0.18">Rh5-NAAQ</text>
<text x="344.10" y="145.02" font-size="6.2" font-weight="bold" fill="#111" text-anchor="start" textLength="12.10" lengthAdjust="spacingAndGlyphs" stroke="#111" stroke-width="0.18">PMX</text>
<text x="358.70" y="145.02" font-size="6.2" font-weight="normal" fill="#a6a6a6" text-anchor="start" textLength="17.30" lengthAdjust="spacingAndGlyphs" stroke="#a6a6a6" stroke-width="0.18">NAAQ</text>
<line x1="355.60" y1="146.20" x2="355.60" y2="151.40" stroke="#111" stroke-width="1.15"/>
<path d="M354.00,150.00 L357.20,150.00 L355.60,154.20 Z" fill="#111"/>
<line x1="360.70" y1="146.20" x2="360.70" y2="151.40" stroke="#a6a6a6" stroke-width="1.15"/>
<path d="M359.10,150.00 L362.30,150.00 L360.70,154.20 Z" fill="#a6a6a6"/>
<text x="386.90" y="144.42" font-size="6.2" font-weight="bold" fill="#111" text-anchor="start" textLength="15.80" lengthAdjust="spacingAndGlyphs" stroke="#111" stroke-width="0.18">FLAG</text>
<path d="M396.00,145.70 L396.00,149.78 M393.20,152.50 L396.00,149.78 L398.80,152.50" stroke="#111" stroke-width="0.95" fill="none"/>
<line x1="345.70" y1="167.40" x2="397.60" y2="167.40" stroke="#333" stroke-width="1.0"/>
<line x1="354.20" y1="172.80" x2="397.60" y2="172.80" stroke="#333" stroke-width="1.0"/>
<text x="399.60" y="169.68" font-size="5.8" font-weight="bold" fill="#111" text-anchor="start" textLength="9.90" lengthAdjust="spacingAndGlyphs" stroke="#111" stroke-width="0.18">p63</text>
<text x="399.60" y="175.18" font-size="5.8" font-weight="bold" fill="#111" text-anchor="start" textLength="19.20" lengthAdjust="spacingAndGlyphs" stroke="#111" stroke-width="0.18">p52/53</text>
<text x="416.80" y="157.52" font-size="9.0" font-weight="bold" fill="#111" text-anchor="start" textLength="28.20" lengthAdjust="spacingAndGlyphs" stroke="#111" stroke-width="0.18">Control</text>
<line x1="240.10" y1="185.50" x2="451.10" y2="185.50" stroke="#858585" stroke-width="1.5" stroke-dasharray="6.0 4.0" stroke-dashoffset="3.0"/>
<rect x="240.10" y="209.40" width="61.90" height="9.40" fill="#d9f5e2" stroke="#a0a0a0" stroke-width="0.9"/>
<rect x="240.10" y="209.40" width="1.80" height="9.40" fill="#7a7a7a" stroke="none" stroke-width="0"/>
<rect x="299.60" y="209.80" width="2.00" height="8.60" fill="#e8a990" stroke="none" stroke-width="0"/>
<line x1="299.40" y1="209.40" x2="299.40" y2="218.80" stroke="#a0a0a0" stroke-width="0.6"/>
<text x="276.60" y="216.61" font-size="7.0" font-weight="bold" fill="#a0a0a0" text-anchor="middle" stroke="#a0a0a0" stroke-width="0.18">Rh5-iKO</text>
<text x="250.60" y="198.82" font-size="6.2" font-weight="normal" fill="#a6a6a6" text-anchor="start" textLength="12.70" lengthAdjust="spacingAndGlyphs" stroke="#a6a6a6" stroke-width="0.18">PMX</text>
<line x1="257.20" y1="200.70" x2="257.20" y2="205.80" stroke="#a6a6a6" stroke-width="1.15"/>
<path d="M255.60,204.40 L258.80,204.40 L257.20,208.60 Z" fill="#a6a6a6"/>
<text x="295.60" y="198.02" font-size="6.2" font-weight="normal" fill="#a6a6a6" text-anchor="start" textLength="8.10" lengthAdjust="spacingAndGlyphs" stroke="#a6a6a6" stroke-width="0.18">HA</text>
<path d="M300.60,199.70 L300.60,203.78 M297.80,206.50 L300.60,203.78 L303.40,206.50" stroke="#a6a6a6" stroke-width="0.95" fill="none"/>
<line x1="241.70" y1="223.50" x2="301.60" y2="223.50" stroke="#bdbdbd" stroke-width="1.0"/>
<line x1="256.60" y1="229.30" x2="301.60" y2="229.30" stroke="#bdbdbd" stroke-width="1.0"/>
<text x="303.60" y="225.68" font-size="5.8" font-weight="bold" fill="#a6a6a6" text-anchor="start" textLength="10.00" lengthAdjust="spacingAndGlyphs" stroke="#a6a6a6" stroke-width="0.18">p64</text>
<text x="303.60" y="231.48" font-size="5.8" font-weight="bold" fill="#a6a6a6" text-anchor="start" textLength="10.00" lengthAdjust="spacingAndGlyphs" stroke="#a6a6a6" stroke-width="0.18">p50</text>
<rect x="345.70" y="210.20" width="54.90" height="8.60" fill="#8fe0a9" stroke="#1a1a1a" stroke-width="0.9"/>
<rect x="345.70" y="210.20" width="1.80" height="8.60" fill="#111" stroke="none" stroke-width="0"/>
<rect x="398.20" y="210.60" width="2.00" height="7.80" fill="#f2d40a" stroke="none" stroke-width="0"/>
<line x1="398.00" y1="210.20" x2="398.00" y2="218.80" stroke="#1a1a1a" stroke-width="0.6"/>
<text x="374.50" y="217.01" font-size="7.0" font-weight="bold" fill="#111" text-anchor="middle" stroke="#111" stroke-width="0.18">Rh5-NAAQ</text>
<text x="345.10" y="200.92" font-size="6.2" font-weight="bold" fill="#111" text-anchor="start" textLength="12.10" lengthAdjust="spacingAndGlyphs" stroke="#111" stroke-width="0.18">PMX</text>
<text x="359.30" y="200.92" font-size="6.2" font-weight="normal" fill="#a6a6a6" text-anchor="start" textLength="17.50" lengthAdjust="spacingAndGlyphs" stroke="#a6a6a6" stroke-width="0.18">NAAQ</text>
<line x1="357.00" y1="202.00" x2="357.00" y2="207.20" stroke="#111" stroke-width="1.15"/>
<path d="M355.40,205.80 L358.60,205.80 L357.00,210.00 Z" fill="#111"/>
<line x1="362.00" y1="202.00" x2="362.00" y2="207.20" stroke="#a6a6a6" stroke-width="1.15"/>
<path d="M360.40,205.80 L363.60,205.80 L362.00,210.00 Z" fill="#a6a6a6"/>
<text x="390.00" y="198.82" font-size="6.2" font-weight="bold" fill="#111" text-anchor="start" textLength="15.00" lengthAdjust="spacingAndGlyphs" stroke="#111" stroke-width="0.18">FLAG</text>
<path d="M398.40,200.20 L398.40,204.28 M395.60,207.00 L398.40,204.28 L401.20,207.00" stroke="#111" stroke-width="0.95" fill="none"/>
<line x1="347.80" y1="223.30" x2="400.60" y2="223.30" stroke="#333" stroke-width="1.0"/>
<line x1="357.20" y1="228.90" x2="400.60" y2="228.90" stroke="#333" stroke-width="1.0"/>
<text x="402.60" y="225.58" font-size="5.8" font-weight="bold" fill="#111" text-anchor="start" textLength="9.90" lengthAdjust="spacingAndGlyphs" stroke="#111" stroke-width="0.18">p63</text>
<text x="402.60" y="231.28" font-size="5.8" font-weight="bold" fill="#111" text-anchor="start" textLength="19.20" lengthAdjust="spacingAndGlyphs" stroke="#111" stroke-width="0.18">p52/53</text>
<text x="420.20" y="201.92" font-size="9.0" font-weight="bold" fill="#111" text-anchor="start" textLength="19.20" lengthAdjust="spacingAndGlyphs" stroke="#111" stroke-width="0.18">Rapa</text>
<rect x="286.50" y="297.90" width="62.40" height="9.50" fill="#8fe0a9" stroke="#1a1a1a" stroke-width="0.9"/>
<rect x="286.50" y="297.90" width="1.80" height="9.50" fill="#111" stroke="none" stroke-width="0"/>
<rect x="346.50" y="298.30" width="2.00" height="8.70" fill="#d42a1a" stroke="none" stroke-width="0"/>
<line x1="346.30" y1="297.90" x2="346.30" y2="307.40" stroke="#1a1a1a" stroke-width="0.6"/>
<text x="323.80" y="305.16" font-size="7.0" font-weight="bold" fill="#111" text-anchor="middle" stroke="#111" stroke-width="0.18">Rh5-iKO</text>
<text x="296.60" y="287.42" font-size="6.2" font-weight="bold" fill="#111" text-anchor="start" textLength="13.10" lengthAdjust="spacingAndGlyphs" stroke="#111" stroke-width="0.18">PMX</text>
<line x1="303.60" y1="290.30" x2="303.60" y2="294.80" stroke="#111" stroke-width="1.15"/>
<path d="M302.00,293.40 L305.20,293.40 L303.60,297.60 Z" fill="#111"/>
<text x="323.20" y="287.42" font-size="6.2" font-weight="bold" fill="#111" text-anchor="start" textLength="11.30" lengthAdjust="spacingAndGlyphs" stroke="#111" stroke-width="0.18">5A9</text>
<path d="M328.80,289.50 L328.80,293.34 M326.00,295.90 L328.80,293.34 L331.60,295.90" stroke="#111" stroke-width="0.95" fill="none"/>
<text x="342.20" y="287.82" font-size="6.2" font-weight="bold" fill="#111" text-anchor="start" textLength="9.10" lengthAdjust="spacingAndGlyphs" stroke="#111" stroke-width="0.18">HA</text>
<path d="M347.20,289.50 L347.20,293.34 M344.40,295.90 L347.20,293.34 L350.00,295.90" stroke="#111" stroke-width="0.95" fill="none"/>
<line x1="288.50" y1="312.10" x2="347.90" y2="312.10" stroke="#333" stroke-width="1.0"/>
<line x1="303.60" y1="317.50" x2="347.90" y2="317.50" stroke="#333" stroke-width="1.0"/>
<text x="350.70" y="314.28" font-size="5.8" font-weight="bold" fill="#111" text-anchor="start" textLength="10.00" lengthAdjust="spacingAndGlyphs" stroke="#111" stroke-width="0.18">p64</text>
<text x="350.70" y="319.68" font-size="5.8" font-weight="bold" fill="#111" text-anchor="start" textLength="10.00" lengthAdjust="spacingAndGlyphs" stroke="#111" stroke-width="0.18">p50</text>
<rect x="379.50" y="297.90" width="54.00" height="9.50" fill="#8fe0a9" stroke="#1a1a1a" stroke-width="0.9"/>
<rect x="379.50" y="297.90" width="1.80" height="9.50" fill="#111" stroke="none" stroke-width="0"/>
<rect x="431.10" y="298.30" width="2.00" height="8.70" fill="#f2d40a" stroke="none" stroke-width="0"/>
<line x1="430.90" y1="297.90" x2="430.90" y2="307.40" stroke="#1a1a1a" stroke-width="0.6"/>
<text x="408.00" y="305.16" font-size="7.0" font-weight="bold" fill="#111" text-anchor="middle" stroke="#111" stroke-width="0.18">Rh5-tmut</text>
<text x="378.10" y="288.02" font-size="6.2" font-weight="bold" fill="#111" text-anchor="start" textLength="12.50" lengthAdjust="spacingAndGlyphs" stroke="#111" stroke-width="0.18">PMX</text>
<text transform="translate(396.82,279.40) rotate(-90)" x="0" y="0" font-size="6.2" font-weight="bold" fill="#a6a6a6" stroke="#a6a6a6" stroke-width="0.1" text-anchor="middle" textLength="16.9" lengthAdjust="spacingAndGlyphs">NAAQ</text>
<line x1="390.40" y1="290.00" x2="390.40" y2="294.80" stroke="#111" stroke-width="1.15"/>
<path d="M388.80,293.40 L392.00,293.40 L390.40,297.60 Z" fill="#111"/>
<line x1="394.60" y1="290.00" x2="394.60" y2="294.80" stroke="#a6a6a6" stroke-width="1.15"/>
<path d="M393.00,293.40 L396.20,293.40 L394.60,297.60 Z" fill="#a6a6a6"/>
<text x="406.80" y="287.42" font-size="6.2" font-weight="bold" fill="#111" text-anchor="start" textLength="11.70" lengthAdjust="spacingAndGlyphs" stroke="#111" stroke-width="0.18">5A9</text>
<path d="M412.80,289.50 L412.80,293.34 M410.00,295.90 L412.80,293.34 L415.60,295.90" stroke="#111" stroke-width="0.95" fill="none"/>
<text x="422.80" y="287.42" font-size="6.2" font-weight="bold" fill="#111" text-anchor="start" textLength="15.30" lengthAdjust="spacingAndGlyphs" stroke="#111" stroke-width="0.18">FLAG</text>
<path d="M432.50,289.50 L432.50,293.34 M429.70,295.90 L432.50,293.34 L435.30,295.90" stroke="#111" stroke-width="0.95" fill="none"/>
<line x1="380.50" y1="311.30" x2="432.10" y2="311.30" stroke="#333" stroke-width="1.0"/>
<line x1="390.10" y1="317.30" x2="432.10" y2="317.30" stroke="#333" stroke-width="1.0"/>
<text x="434.90" y="313.48" font-size="5.8" font-weight="bold" fill="#111" text-anchor="start" textLength="9.90" lengthAdjust="spacingAndGlyphs" stroke="#111" stroke-width="0.18">p63</text>
<text x="434.90" y="319.48" font-size="5.8" font-weight="bold" fill="#111" text-anchor="start" textLength="18.80" lengthAdjust="spacingAndGlyphs" stroke="#111" stroke-width="0.18">p52/53</text>
<text x="452.70" y="302.82" font-size="9.0" font-weight="bold" fill="#111" text-anchor="start" textLength="28.20" lengthAdjust="spacingAndGlyphs" stroke="#111" stroke-width="0.18">Control</text>
<line x1="286.10" y1="325.50" x2="482.90" y2="325.50" stroke="#858585" stroke-width="1.5" stroke-dasharray="6.3 4.0" stroke-dashoffset="3.5"/>
<rect x="286.90" y="357.90" width="61.60" height="9.50" fill="#d9f5e2" stroke="#a0a0a0" stroke-width="0.9"/>
<rect x="286.90" y="357.90" width="1.80" height="9.50" fill="#7a7a7a" stroke="none" stroke-width="0"/>
<rect x="346.10" y="358.30" width="2.00" height="8.70" fill="#e8a990" stroke="none" stroke-width="0"/>
<line x1="345.90" y1="357.90" x2="345.90" y2="367.40" stroke="#a0a0a0" stroke-width="0.6"/>
<text x="324.00" y="365.16" font-size="7.0" font-weight="bold" fill="#a0a0a0" text-anchor="middle" stroke="#a0a0a0" stroke-width="0.18">Rh5-iKO</text>
<text x="297.60" y="347.42" font-size="6.2" font-weight="normal" fill="#a6a6a6" text-anchor="start" textLength="12.50" lengthAdjust="spacingAndGlyphs" stroke="#a6a6a6" stroke-width="0.18">PMX</text>
<line x1="304.50" y1="350.00" x2="304.50" y2="354.80" stroke="#a6a6a6" stroke-width="1.15"/>
<path d="M302.90,353.40 L306.10,353.40 L304.50,357.60 Z" fill="#a6a6a6"/>
<text x="323.20" y="347.22" font-size="6.2" font-weight="normal" fill="#a6a6a6" text-anchor="start" textLength="11.30" lengthAdjust="spacingAndGlyphs" stroke="#a6a6a6" stroke-width="0.18">5A9</text>
<path d="M328.80,349.20 L328.80,353.28 M326.00,356.00 L328.80,353.28 L331.60,356.00" stroke="#a6a6a6" stroke-width="0.95" fill="none"/>
<text x="342.20" y="347.22" font-size="6.2" font-weight="normal" fill="#a6a6a6" text-anchor="start" textLength="9.10" lengthAdjust="spacingAndGlyphs" stroke="#a6a6a6" stroke-width="0.18">HA</text>
<path d="M347.20,349.20 L347.20,353.28 M344.40,356.00 L347.20,353.28 L350.00,356.00" stroke="#a6a6a6" stroke-width="0.95" fill="none"/>
<line x1="288.30" y1="371.60" x2="348.50" y2="371.60" stroke="#bdbdbd" stroke-width="1.0"/>
<line x1="303.60" y1="377.70" x2="348.50" y2="377.70" stroke="#bdbdbd" stroke-width="1.0"/>
<text x="350.70" y="373.78" font-size="5.8" font-weight="bold" fill="#a6a6a6" text-anchor="start" textLength="10.00" lengthAdjust="spacingAndGlyphs" stroke="#a6a6a6" stroke-width="0.18">p64</text>
<text x="350.70" y="379.88" font-size="5.8" font-weight="bold" fill="#a6a6a6" text-anchor="start" textLength="10.00" lengthAdjust="spacingAndGlyphs" stroke="#a6a6a6" stroke-width="0.18">p50</text>
<rect x="380.40" y="357.90" width="54.40" height="9.30" fill="#8fe0a9" stroke="#1a1a1a" stroke-width="0.9"/>
<rect x="380.40" y="357.90" width="1.80" height="9.30" fill="#111" stroke="none" stroke-width="0"/>
<rect x="432.40" y="358.30" width="2.00" height="8.50" fill="#f2d40a" stroke="none" stroke-width="0"/>
<line x1="432.20" y1="357.90" x2="432.20" y2="367.20" stroke="#1a1a1a" stroke-width="0.6"/>
<text x="409.50" y="365.06" font-size="7.0" font-weight="bold" fill="#111" text-anchor="middle" stroke="#111" stroke-width="0.18">Rh5-tmut</text>
<text x="379.50" y="348.62" font-size="6.2" font-weight="bold" fill="#111" text-anchor="start" textLength="12.50" lengthAdjust="spacingAndGlyphs" stroke="#111" stroke-width="0.18">PMX</text>
<text transform="translate(399.12,339.50) rotate(-90)" x="0" y="0" font-size="6.2" font-weight="bold" fill="#a6a6a6" stroke="#a6a6a6" stroke-width="0.1" text-anchor="middle" textLength="16.6" lengthAdjust="spacingAndGlyphs">NAAQ</text>
<line x1="391.50" y1="350.50" x2="391.50" y2="355.20" stroke="#111" stroke-width="1.15"/>
<path d="M389.90,353.80 L393.10,353.80 L391.50,358.00 Z" fill="#111"/>
<line x1="396.70" y1="350.50" x2="396.70" y2="355.20" stroke="#a6a6a6" stroke-width="1.15"/>
<path d="M395.10,353.80 L398.30,353.80 L396.70,358.00 Z" fill="#a6a6a6"/>
<text x="408.20" y="347.42" font-size="6.2" font-weight="bold" fill="#111" text-anchor="start" textLength="11.10" lengthAdjust="spacingAndGlyphs" stroke="#111" stroke-width="0.18">5A9</text>
<path d="M414.20,349.50 L414.20,353.40 M411.40,356.00 L414.20,353.40 L417.00,356.00" stroke="#111" stroke-width="0.95" fill="none"/>
<text x="424.00" y="347.42" font-size="6.2" font-weight="bold" fill="#111" text-anchor="start" textLength="16.00" lengthAdjust="spacingAndGlyphs" stroke="#111" stroke-width="0.18">FLAG</text>
<path d="M433.90,349.50 L433.90,353.40 M431.10,356.00 L433.90,353.40 L436.70,356.00" stroke="#111" stroke-width="0.95" fill="none"/>
<line x1="382.00" y1="370.80" x2="434.80" y2="370.80" stroke="#333" stroke-width="1.0"/>
<line x1="391.50" y1="377.70" x2="434.80" y2="377.70" stroke="#333" stroke-width="1.0"/>
<text x="436.50" y="372.98" font-size="5.8" font-weight="bold" fill="#111" text-anchor="start" textLength="9.90" lengthAdjust="spacingAndGlyphs" stroke="#111" stroke-width="0.18">p63</text>
<text x="436.50" y="379.88" font-size="5.8" font-weight="bold" fill="#111" text-anchor="start" textLength="18.80" lengthAdjust="spacingAndGlyphs" stroke="#111" stroke-width="0.18">p52/53</text>
<text x="455.70" y="348.02" font-size="9.0" font-weight="bold" fill="#111" text-anchor="start" textLength="19.60" lengthAdjust="spacingAndGlyphs" stroke="#111" stroke-width="0.18">Rapa</text>
<rect x="268.30" y="453.90" width="61.90" height="9.50" fill="#8fe0a9" stroke="#1a1a1a" stroke-width="0.9"/>
<rect x="268.30" y="453.90" width="1.80" height="9.50" fill="#111" stroke="none" stroke-width="0"/>
<rect x="327.80" y="454.30" width="2.00" height="8.70" fill="#d42a1a" stroke="none" stroke-width="0"/>
<line x1="327.60" y1="453.90" x2="327.60" y2="463.40" stroke="#1a1a1a" stroke-width="0.6"/>
<text x="303.50" y="461.16" font-size="7.0" font-weight="bold" fill="#111" text-anchor="middle" stroke="#111" stroke-width="0.18">Rh5-iKO</text>
<text x="278.70" y="443.02" font-size="6.2" font-weight="bold" fill="#111" text-anchor="start" textLength="13.40" lengthAdjust="spacingAndGlyphs" stroke="#111" stroke-width="0.18">PMX</text>
<line x1="285.80" y1="445.20" x2="285.80" y2="450.60" stroke="#111" stroke-width="1.15"/>
<path d="M284.20,449.20 L287.40,449.20 L285.80,453.40 Z" fill="#111"/>
<text x="323.80" y="442.42" font-size="6.2" font-weight="bold" fill="#111" text-anchor="start" textLength="8.60" lengthAdjust="spacingAndGlyphs" stroke="#111" stroke-width="0.18">HA</text>
<path d="M328.80,444.20 L328.80,448.28 M326.00,451.00 L328.80,448.28 L331.60,451.00" stroke="#111" stroke-width="0.95" fill="none"/>
<line x1="269.90" y1="468.40" x2="329.20" y2="468.40" stroke="#333" stroke-width="1.0"/>
<line x1="284.80" y1="474.10" x2="329.20" y2="474.10" stroke="#333" stroke-width="1.0"/>
<text x="331.20" y="470.58" font-size="5.8" font-weight="bold" fill="#111" text-anchor="start" textLength="10.00" lengthAdjust="spacingAndGlyphs" stroke="#111" stroke-width="0.18">p64</text>
<text x="331.20" y="476.28" font-size="5.8" font-weight="bold" fill="#111" text-anchor="start" textLength="10.00" lengthAdjust="spacingAndGlyphs" stroke="#111" stroke-width="0.18">p50</text>
<rect x="365.30" y="455.30" width="46.50" height="9.10" fill="#8fe0a9" stroke="#1a1a1a" stroke-width="0.9"/>
<rect x="365.30" y="455.30" width="1.80" height="9.10" fill="#111" stroke="none" stroke-width="0"/>
<rect x="409.40" y="455.70" width="2.00" height="8.30" fill="#f2d40a" stroke="none" stroke-width="0"/>
<line x1="409.20" y1="455.30" x2="409.20" y2="464.40" stroke="#1a1a1a" stroke-width="0.6"/>
<text x="391.50" y="462.36" font-size="7.0" font-weight="bold" fill="#111" text-anchor="middle" stroke="#111" stroke-width="0.18">Rh5<tspan font-weight="normal" stroke-width="0.25" font-size="5.95">∆</tspan>PD</text>
<text x="361.70" y="443.42" font-size="6.2" font-weight="bold" fill="#111" text-anchor="start" textLength="12.70" lengthAdjust="spacingAndGlyphs" stroke="#111" stroke-width="0.18">PMX</text>
<line x1="367.30" y1="446.20" x2="367.30" y2="452.00" stroke="#111" stroke-width="1.15"/>
<path d="M365.70,450.60 L368.90,450.60 L367.30,454.80 Z" fill="#111"/>
<text x="401.00" y="443.42" font-size="6.2" font-weight="bold" fill="#111" text-anchor="start" textLength="16.20" lengthAdjust="spacingAndGlyphs" stroke="#111" stroke-width="0.18">FLAG</text>
<path d="M411.50,445.20 L411.50,449.28 M408.70,452.00 L411.50,449.28 L414.30,452.00" stroke="#111" stroke-width="0.95" fill="none"/>
<line x1="366.70" y1="469.50" x2="411.70" y2="469.50" stroke="#333" stroke-width="1.0"/>
<text x="413.80" y="471.48" font-size="5.8" font-weight="bold" fill="#111" text-anchor="start" textLength="10.00" lengthAdjust="spacingAndGlyphs" stroke="#111" stroke-width="0.18">p49</text>
<text x="429.30" y="461.12" font-size="9.0" font-weight="bold" fill="#111" text-anchor="start" textLength="27.60" lengthAdjust="spacingAndGlyphs" stroke="#111" stroke-width="0.18">Control</text>
<line x1="265.60" y1="479.50" x2="457.50" y2="479.50" stroke="#858585" stroke-width="1.5" stroke-dasharray="6.0 3.9" stroke-dashoffset="2.7"/>
<rect x="268.30" y="504.40" width="61.90" height="9.40" fill="#d9f5e2" stroke="#a0a0a0" stroke-width="0.9"/>
<rect x="268.30" y="504.40" width="1.80" height="9.40" fill="#7a7a7a" stroke="none" stroke-width="0"/>
<rect x="327.80" y="504.80" width="2.00" height="8.60" fill="#e8a990" stroke="none" stroke-width="0"/>
<line x1="327.60" y1="504.40" x2="327.60" y2="513.80" stroke="#a0a0a0" stroke-width="0.6"/>
<text x="303.50" y="511.61" font-size="7.0" font-weight="bold" fill="#a0a0a0" text-anchor="middle" stroke="#a0a0a0" stroke-width="0.18">Rh5-iKO</text>
<text x="278.70" y="493.82" font-size="6.2" font-weight="normal" fill="#a6a6a6" text-anchor="start" textLength="13.00" lengthAdjust="spacingAndGlyphs" stroke="#a6a6a6" stroke-width="0.18">PMX</text>
<line x1="285.80" y1="496.50" x2="285.80" y2="501.20" stroke="#a6a6a6" stroke-width="1.15"/>
<path d="M284.20,499.80 L287.40,499.80 L285.80,504.00 Z" fill="#a6a6a6"/>
<text x="323.80" y="492.72" font-size="6.2" font-weight="normal" fill="#a6a6a6" text-anchor="start" textLength="8.60" lengthAdjust="spacingAndGlyphs" stroke="#a6a6a6" stroke-width="0.18">HA</text>
<path d="M328.80,494.70 L328.80,498.78 M326.00,501.50 L328.80,498.78 L331.60,501.50" stroke="#a6a6a6" stroke-width="0.95" fill="none"/>
<line x1="269.90" y1="518.30" x2="329.20" y2="518.30" stroke="#bdbdbd" stroke-width="1.0"/>
<line x1="284.80" y1="523.90" x2="329.20" y2="523.90" stroke="#bdbdbd" stroke-width="1.0"/>
<text x="331.20" y="520.48" font-size="5.8" font-weight="bold" fill="#a6a6a6" text-anchor="start" textLength="10.00" lengthAdjust="spacingAndGlyphs" stroke="#a6a6a6" stroke-width="0.18">p64</text>
<text x="331.20" y="526.08" font-size="5.8" font-weight="bold" fill="#a6a6a6" text-anchor="start" textLength="10.00" lengthAdjust="spacingAndGlyphs" stroke="#a6a6a6" stroke-width="0.18">p50</text>
<rect x="367.30" y="505.20" width="46.10" height="9.70" fill="#8fe0a9" stroke="#1a1a1a" stroke-width="0.9"/>
<rect x="367.30" y="505.20" width="1.80" height="9.70" fill="#111" stroke="none" stroke-width="0"/>
<rect x="411.00" y="505.60" width="2.00" height="8.90" fill="#f2d40a" stroke="none" stroke-width="0"/>
<line x1="410.80" y1="505.20" x2="410.80" y2="514.90" stroke="#1a1a1a" stroke-width="0.6"/>
<text x="393.00" y="512.56" font-size="7.0" font-weight="bold" fill="#111" text-anchor="middle" stroke="#111" stroke-width="0.18">Rh5<tspan font-weight="normal" stroke-width="0.25" font-size="5.95">∆</tspan>PD</text>
<text x="361.30" y="493.82" font-size="6.2" font-weight="bold" fill="#111" text-anchor="start" textLength="12.70" lengthAdjust="spacingAndGlyphs" stroke="#111" stroke-width="0.18">PMX</text>
<line x1="369.80" y1="496.70" x2="369.80" y2="502.20" stroke="#111" stroke-width="1.15"/>
<path d="M368.20,500.80 L371.40,500.80 L369.80,505.00 Z" fill="#111"/>
<text x="402.70" y="494.42" font-size="6.2" font-weight="bold" fill="#111" text-anchor="start" textLength="15.70" lengthAdjust="spacingAndGlyphs" stroke="#111" stroke-width="0.18">FLAG</text>
<path d="M412.70,495.70 L412.70,499.78 M409.90,502.50 L412.70,499.78 L415.50,502.50" stroke="#111" stroke-width="0.95" fill="none"/>
<line x1="368.30" y1="519.50" x2="412.70" y2="519.50" stroke="#333" stroke-width="1.0"/>
<text x="414.80" y="521.78" font-size="5.8" font-weight="bold" fill="#111" text-anchor="start" textLength="10.00" lengthAdjust="spacingAndGlyphs" stroke="#111" stroke-width="0.18">p49</text>
<text x="431.30" y="499.12" font-size="9.0" font-weight="bold" fill="#111" text-anchor="start" textLength="19.20" lengthAdjust="spacingAndGlyphs" stroke="#111" stroke-width="0.18">Rapa</text>
<rect x="610.10" y="63.90" width="6.70" height="33.40" fill="#bdbdbd" stroke="none" stroke-width="0"/>
<rect x="664.10" y="5.00" width="6.60" height="92.30" fill="#bdbdbd" stroke="none" stroke-width="0"/>
<line x1="551.30" y1="10.30" x2="551.30" y2="97.80" stroke="#222" stroke-width="1.0"/>
<line x1="550.80" y1="97.30" x2="671.00" y2="97.30" stroke="#222" stroke-width="1.0"/>
<line x1="548.90" y1="97.30" x2="551.30" y2="97.30" stroke="#222" stroke-width="0.9"/>
<text x="546.90" y="99.12" font-size="6.2" font-weight="bold" fill="#111" text-anchor="end" stroke="#111" stroke-width="0.18">0</text>
<line x1="548.90" y1="73.09" x2="551.30" y2="73.09" stroke="#222" stroke-width="0.9"/>
<text x="546.90" y="74.91" font-size="6.2" font-weight="bold" fill="#111" text-anchor="end" stroke="#111" stroke-width="0.18">3</text>
<line x1="548.90" y1="48.88" x2="551.30" y2="48.88" stroke="#222" stroke-width="0.9"/>
<text x="546.90" y="50.70" font-size="6.2" font-weight="bold" fill="#111" text-anchor="end" stroke="#111" stroke-width="0.18">6</text>
<line x1="548.90" y1="24.67" x2="551.30" y2="24.67" stroke="#222" stroke-width="0.9"/>
<text x="546.90" y="26.49" font-size="6.2" font-weight="bold" fill="#111" text-anchor="end" stroke="#111" stroke-width="0.18">9</text>
<line x1="548.90" y1="10.14" x2="551.30" y2="10.14" stroke="#222" stroke-width="0.9"/>
<text x="546.90" y="11.96" font-size="6.2" font-weight="bold" fill="#111" text-anchor="end" stroke="#111" stroke-width="0.18">10.8</text>
<line x1="551.30" y1="97.30" x2="551.30" y2="99.70" stroke="#222" stroke-width="0.9"/>
<text x="551.30" y="107.08" font-size="5.8" font-weight="bold" fill="#111" text-anchor="middle" stroke="#111" stroke-width="0.18">0</text>
<line x1="576.34" y1="97.30" x2="576.34" y2="99.70" stroke="#222" stroke-width="0.9"/>
<text x="576.34" y="107.08" font-size="5.8" font-weight="bold" fill="#111" text-anchor="middle" stroke="#111" stroke-width="0.18">20</text>
<line x1="601.38" y1="97.30" x2="601.38" y2="99.70" stroke="#222" stroke-width="0.9"/>
<text x="601.38" y="107.08" font-size="5.8" font-weight="bold" fill="#111" text-anchor="middle" stroke="#111" stroke-width="0.18">40</text>
<line x1="626.42" y1="97.30" x2="626.42" y2="99.70" stroke="#222" stroke-width="0.9"/>
<text x="626.42" y="107.08" font-size="5.8" font-weight="bold" fill="#111" text-anchor="middle" stroke="#111" stroke-width="0.18">60</text>
<line x1="648.96" y1="97.30" x2="648.96" y2="99.70" stroke="#222" stroke-width="0.9"/>
<text x="648.96" y="107.08" font-size="5.8" font-weight="bold" fill="#111" text-anchor="middle" stroke="#111" stroke-width="0.18">78</text>
<line x1="670.24" y1="97.30" x2="670.24" y2="99.70" stroke="#222" stroke-width="0.9"/>
<text x="670.24" y="107.08" font-size="5.8" font-weight="bold" fill="#111" text-anchor="middle" stroke="#111" stroke-width="0.18">95</text>
<text x="568.90" y="16.79" font-size="8.9" font-weight="bold" fill="#111" text-anchor="start" textLength="73.70" lengthAdjust="spacingAndGlyphs" stroke="#111" stroke-width="0.18">Rh5-iKO/Rh5-NFLQ</text>
<circle cx="560.80" cy="33.00" r="1.3" fill="#179a5c"/>
<text x="565.20" y="35.72" font-size="7.6" font-weight="bold" fill="#179a5c" text-anchor="start" textLength="25.00" lengthAdjust="spacingAndGlyphs" stroke="#179a5c" stroke-width="0.18">Control</text>
<circle cx="560.80" cy="40.50" r="1.3" fill="#e64a2a"/>
<text x="565.20" y="43.22" font-size="7.6" font-weight="bold" fill="#e64a2a" text-anchor="start" textLength="17.00" lengthAdjust="spacingAndGlyphs" stroke="#e64a2a" stroke-width="0.18">Rapa</text>
<text transform="translate(537.70,55.80) rotate(-90)" x="0" y="0" font-size="7" font-weight="bold" fill="#111" text-anchor="middle" textLength="42.6" lengthAdjust="spacingAndGlyphs">Parasitaemia</text>
<text x="554.20" y="74.71" font-size="7.0" font-weight="normal" fill="#111" text-anchor="start" stroke="#111" stroke-width="0.18">iKO</text>
<line x1="557.20" y1="78.60" x2="557.20" y2="84.40" stroke="#111" stroke-width="0.9"/>
<path d="M555.95,83.10 L558.45,83.10 L557.20,86.90 Z" fill="#111"/>
<text x="585.30" y="116.41" font-size="7.0" font-weight="bold" fill="#111" text-anchor="start" textLength="61.20" lengthAdjust="spacingAndGlyphs" stroke="#111" stroke-width="0.18">IDC Progress (hpi)</text>
<text x="631.10" y="85.47" font-size="5.5" font-weight="normal" fill="#9a9a9a" text-anchor="start" textLength="21.00" lengthAdjust="spacingAndGlyphs" stroke="#9a9a9a" stroke-width="0.18">Schizont</text>
<text x="631.10" y="90.87" font-size="5.5" font-weight="normal" fill="#9a9a9a" text-anchor="start" textLength="18.60" lengthAdjust="spacingAndGlyphs" stroke="#9a9a9a" stroke-width="0.18">rupture</text>
<line x1="627.60" y1="85.60" x2="620.23" y2="89.36" stroke="#a8a8a8" stroke-width="0.9"/>
<path d="M618.00,90.50 L620.66,87.35 L622.11,90.20 Z" fill="#a8a8a8"/>
<line x1="652.50" y1="85.60" x2="659.87" y2="88.49" stroke="#a8a8a8" stroke-width="0.9"/>
<path d="M662.20,89.40 L658.08,89.50 L659.25,86.52 Z" fill="#a8a8a8"/>
<polyline points="557.20,90.80 582.10,90.70 587.80,91.00 609.80,82.60 618.00,69.00 640.00,70.30 648.60,70.60 669.00,11.00" fill="none" stroke="#179a5c" stroke-width="1.0" stroke-linejoin="round"/>
<polyline points="557.20,90.30 582.10,90.20 587.80,90.10 609.80,80.80 618.00,69.00 640.00,68.60 648.60,70.80 669.00,14.00" fill="none" stroke="#e64a2a" stroke-width="1.0" stroke-linejoin="round"/>
<circle cx="557.20" cy="91.40" r="1.45" fill="#179a5c"/>
<circle cx="582.10" cy="91.00" r="1.45" fill="#179a5c"/>
<circle cx="587.80" cy="92.00" r="1.45" fill="#179a5c"/>
<circle cx="609.80" cy="82.10" r="1.45" fill="#179a5c"/>
<circle cx="609.80" cy="80.00" r="1.45" fill="#179a5c"/>
<circle cx="618.00" cy="65.70" r="1.45" fill="#179a5c"/>
<circle cx="618.00" cy="68.60" r="1.45" fill="#179a5c"/>
<circle cx="640.00" cy="65.50" r="1.45" fill="#179a5c"/>
<circle cx="640.00" cy="70.90" r="1.45" fill="#179a5c"/>
<circle cx="640.00" cy="75.00" r="1.45" fill="#179a5c"/>
<circle cx="648.60" cy="67.70" r="1.45" fill="#179a5c"/>
<circle cx="648.60" cy="72.50" r="1.45" fill="#179a5c"/>
<circle cx="669.00" cy="5.00" r="1.45" fill="#179a5c"/>
<circle cx="669.00" cy="9.90" r="1.45" fill="#179a5c"/>
<circle cx="557.20" cy="90.00" r="1.45" fill="#e64a2a"/>
<circle cx="582.10" cy="90.00" r="1.45" fill="#e64a2a"/>
<circle cx="587.80" cy="89.60" r="1.45" fill="#e64a2a"/>
<circle cx="609.80" cy="74.70" r="1.45" fill="#e64a2a"/>
<circle cx="609.80" cy="86.50" r="1.45" fill="#e64a2a"/>
<circle cx="618.00" cy="70.80" r="1.45" fill="#e64a2a"/>
<circle cx="640.00" cy="68.80" r="1.45" fill="#e64a2a"/>
<circle cx="648.60" cy="70.80" r="1.45" fill="#e64a2a"/>
<circle cx="648.60" cy="74.40" r="1.45" fill="#e64a2a"/>
<circle cx="669.00" cy="11.90" r="1.45" fill="#e64a2a"/>
<circle cx="669.00" cy="15.70" r="1.45" fill="#e64a2a"/>
<circle cx="669.00" cy="19.80" r="1.45" fill="#e64a2a"/>
<rect x="591.20" y="192.90" width="6.00" height="32.90" fill="#bdbdbd" stroke="none" stroke-width="0"/>
<rect x="645.20" y="151.00" width="7.10" height="74.80" fill="#bdbdbd" stroke="none" stroke-width="0"/>
<line x1="532.40" y1="145.10" x2="532.40" y2="226.30" stroke="#444" stroke-width="0.95"/>
<line x1="531.90" y1="225.80" x2="680.00" y2="225.80" stroke="#222" stroke-width="1.0"/>
<line x1="530.00" y1="225.80" x2="532.40" y2="225.80" stroke="#222" stroke-width="0.9"/>
<text x="528.00" y="227.62" font-size="6.2" font-weight="bold" fill="#111" text-anchor="end" stroke="#111" stroke-width="0.18">0</text>
<line x1="530.00" y1="201.68" x2="532.40" y2="201.68" stroke="#222" stroke-width="0.9"/>
<text x="528.00" y="203.50" font-size="6.2" font-weight="bold" fill="#111" text-anchor="end" stroke="#111" stroke-width="0.18">3</text>
<line x1="530.00" y1="177.56" x2="532.40" y2="177.56" stroke="#222" stroke-width="0.9"/>
<text x="528.00" y="179.38" font-size="6.2" font-weight="bold" fill="#111" text-anchor="end" stroke="#111" stroke-width="0.18">6</text>
<line x1="530.00" y1="153.44" x2="532.40" y2="153.44" stroke="#222" stroke-width="0.9"/>
<text x="528.00" y="155.26" font-size="6.2" font-weight="bold" fill="#111" text-anchor="end" stroke="#111" stroke-width="0.18">9</text>
<line x1="530.00" y1="145.40" x2="532.40" y2="145.40" stroke="#222" stroke-width="0.9"/>
<text x="528.00" y="147.22" font-size="6.2" font-weight="bold" fill="#111" text-anchor="end" stroke="#111" stroke-width="0.18">10</text>
<line x1="532.40" y1="225.80" x2="532.40" y2="228.20" stroke="#222" stroke-width="0.9"/>
<text x="532.40" y="235.38" font-size="5.8" font-weight="bold" fill="#111" text-anchor="middle" stroke="#111" stroke-width="0.18">0</text>
<line x1="557.28" y1="225.80" x2="557.28" y2="228.20" stroke="#222" stroke-width="0.9"/>
<text x="557.28" y="235.38" font-size="5.8" font-weight="bold" fill="#111" text-anchor="middle" stroke="#111" stroke-width="0.18">20</text>
<line x1="582.16" y1="225.80" x2="582.16" y2="228.20" stroke="#222" stroke-width="0.9"/>
<text x="582.16" y="235.38" font-size="5.8" font-weight="bold" fill="#111" text-anchor="middle" stroke="#111" stroke-width="0.18">40</text>
<line x1="607.04" y1="225.80" x2="607.04" y2="228.20" stroke="#222" stroke-width="0.9"/>
<text x="607.04" y="235.38" font-size="5.8" font-weight="bold" fill="#111" text-anchor="middle" stroke="#111" stroke-width="0.18">60</text>
<line x1="631.92" y1="225.80" x2="631.92" y2="228.20" stroke="#222" stroke-width="0.9"/>
<text x="631.92" y="235.38" font-size="5.8" font-weight="bold" fill="#111" text-anchor="middle" stroke="#111" stroke-width="0.18">80</text>
<line x1="656.80" y1="225.80" x2="656.80" y2="228.20" stroke="#222" stroke-width="0.9"/>
<text x="656.80" y="235.38" font-size="5.8" font-weight="bold" fill="#111" text-anchor="middle" stroke="#111" stroke-width="0.18">100</text>
<line x1="679.19" y1="225.80" x2="679.19" y2="228.20" stroke="#222" stroke-width="0.9"/>
<text x="679.19" y="235.38" font-size="5.8" font-weight="bold" fill="#111" text-anchor="middle" stroke="#111" stroke-width="0.18">118</text>
<text x="542.10" y="151.59" font-size="8.9" font-weight="bold" fill="#111" text-anchor="start" textLength="75.40" lengthAdjust="spacingAndGlyphs" stroke="#111" stroke-width="0.18">Rh5-iKO/Rh5-NAAQ</text>
<circle cx="541.40" cy="168.90" r="1.3" fill="#179a5c"/>
<text x="545.10" y="171.62" font-size="7.6" font-weight="bold" fill="#179a5c" text-anchor="start" textLength="25.00" lengthAdjust="spacingAndGlyphs" stroke="#179a5c" stroke-width="0.18">Control</text>
<circle cx="541.40" cy="176.40" r="1.3" fill="#e64a2a"/>
<text x="545.10" y="179.12" font-size="7.6" font-weight="bold" fill="#e64a2a" text-anchor="start" textLength="17.00" lengthAdjust="spacingAndGlyphs" stroke="#e64a2a" stroke-width="0.18">Rapa</text>
<text transform="translate(518.90,187.30) rotate(-90)" x="0" y="0" font-size="7" font-weight="bold" fill="#111" text-anchor="middle" textLength="42.6" lengthAdjust="spacingAndGlyphs">Parasitaemia</text>
<text x="534.20" y="204.51" font-size="7.0" font-weight="normal" fill="#111" text-anchor="start" stroke="#111" stroke-width="0.18">iKO</text>
<line x1="537.30" y1="208.40" x2="537.30" y2="215.50" stroke="#111" stroke-width="0.9"/>
<path d="M536.05,214.20 L538.55,214.20 L537.30,218.00 Z" fill="#111"/>
<text x="581.40" y="244.71" font-size="7.0" font-weight="bold" fill="#111" text-anchor="start" textLength="61.20" lengthAdjust="spacingAndGlyphs" stroke="#111" stroke-width="0.18">IDC Progress (hpi)</text>
<text x="611.30" y="219.27" font-size="5.5" font-weight="normal" fill="#9a9a9a" text-anchor="start" textLength="21.00" lengthAdjust="spacingAndGlyphs" stroke="#9a9a9a" stroke-width="0.18">Schizont</text>
<text x="611.30" y="224.07" font-size="5.5" font-weight="normal" fill="#9a9a9a" text-anchor="start" textLength="18.60" lengthAdjust="spacingAndGlyphs" stroke="#9a9a9a" stroke-width="0.18">rupture</text>
<line x1="608.40" y1="219.90" x2="601.93" y2="221.50" stroke="#a8a8a8" stroke-width="0.9"/>
<path d="M599.50,222.10 L602.81,219.63 L603.57,222.74 Z" fill="#a8a8a8"/>
<line x1="634.00" y1="219.60" x2="641.21" y2="221.85" stroke="#a8a8a8" stroke-width="0.9"/>
<path d="M643.60,222.60 L639.50,222.99 L640.45,219.94 Z" fill="#a8a8a8"/>
<polyline points="537.30,220.10 562.60,219.60 568.50,219.40 590.50,215.30 598.50,214.30 619.10,201.60 627.90,197.90 648.00,187.80 657.00,168.50 679.90,146.90" fill="none" stroke="#179a5c" stroke-width="1.0" stroke-linejoin="round"/>
<polyline points="537.30,219.40 562.60,219.40 568.50,219.40 590.50,223.00 598.50,215.50 619.10,210.00 627.90,207.40 648.00,202.50 657.00,196.30 679.90,179.80" fill="none" stroke="#e64a2a" stroke-width="1.0" stroke-linejoin="round"/>
<circle cx="537.30" cy="220.10" r="1.45" fill="#179a5c"/>
<circle cx="568.50" cy="219.60" r="1.45" fill="#179a5c"/>
<circle cx="590.50" cy="215.30" r="1.45" fill="#179a5c"/>
<circle cx="598.50" cy="214.20" r="1.45" fill="#179a5c"/>
<circle cx="619.10" cy="200.50" r="1.45" fill="#179a5c"/>
<circle cx="619.10" cy="201.80" r="1.45" fill="#179a5c"/>
<circle cx="619.10" cy="202.80" r="1.45" fill="#179a5c"/>
<circle cx="627.90" cy="193.80" r="1.45" fill="#179a5c"/>
<circle cx="627.90" cy="197.90" r="1.45" fill="#179a5c"/>
<circle cx="627.90" cy="201.60" r="1.45" fill="#179a5c"/>
<circle cx="648.00" cy="186.30" r="1.45" fill="#179a5c"/>
<circle cx="648.00" cy="187.50" r="1.45" fill="#179a5c"/>
<circle cx="648.00" cy="189.00" r="1.45" fill="#179a5c"/>
<circle cx="657.00" cy="161.10" r="1.45" fill="#179a5c"/>
<circle cx="657.00" cy="168.50" r="1.45" fill="#179a5c"/>
<circle cx="657.00" cy="174.80" r="1.45" fill="#179a5c"/>
<circle cx="679.90" cy="141.30" r="1.45" fill="#179a5c"/>
<circle cx="679.90" cy="146.90" r="1.45" fill="#179a5c"/>
<circle cx="679.90" cy="155.20" r="1.45" fill="#179a5c"/>
<circle cx="537.30" cy="219.40" r="1.45" fill="#e64a2a"/>
<circle cx="562.60" cy="219.40" r="1.45" fill="#e64a2a"/>
<circle cx="568.50" cy="219.20" r="1.45" fill="#e64a2a"/>
<circle cx="590.50" cy="223.00" r="1.45" fill="#e64a2a"/>
<circle cx="619.10" cy="206.00" r="1.45" fill="#e64a2a"/>
<circle cx="619.10" cy="209.60" r="1.45" fill="#e64a2a"/>
<circle cx="619.10" cy="211.40" r="1.45" fill="#e64a2a"/>
<circle cx="627.90" cy="203.50" r="1.45" fill="#e64a2a"/>
<circle cx="627.90" cy="207.40" r="1.45" fill="#e64a2a"/>
<circle cx="627.90" cy="208.90" r="1.45" fill="#e64a2a"/>
<circle cx="648.00" cy="200.80" r="1.45" fill="#e64a2a"/>
<circle cx="648.00" cy="202.50" r="1.45" fill="#e64a2a"/>
<circle cx="648.00" cy="204.30" r="1.45" fill="#e64a2a"/>
<circle cx="657.00" cy="191.20" r="1.45" fill="#e64a2a"/>
<circle cx="657.00" cy="196.30" r="1.45" fill="#e64a2a"/>
<circle cx="657.00" cy="200.40" r="1.45" fill="#e64a2a"/>
<circle cx="679.90" cy="178.00" r="1.45" fill="#e64a2a"/>
<circle cx="679.90" cy="179.60" r="1.45" fill="#e64a2a"/>
<rect x="605.60" y="347.70" width="6.40" height="33.40" fill="#bdbdbd" stroke="none" stroke-width="0"/>
<rect x="660.00" y="306.20" width="6.70" height="74.90" fill="#bdbdbd" stroke="none" stroke-width="0"/>
<line x1="546.80" y1="272.20" x2="546.80" y2="381.60" stroke="#9a9a9a" stroke-width="1.4"/>
<line x1="546.30" y1="381.10" x2="672.00" y2="381.10" stroke="#222" stroke-width="1.0"/>
<line x1="544.40" y1="381.10" x2="546.80" y2="381.10" stroke="#222" stroke-width="0.9"/>
<text x="543.20" y="382.92" font-size="6.2" font-weight="bold" fill="#111" text-anchor="end" stroke="#111" stroke-width="0.18">0</text>
<line x1="544.40" y1="356.89" x2="546.80" y2="356.89" stroke="#222" stroke-width="0.9"/>
<text x="543.20" y="358.71" font-size="6.2" font-weight="bold" fill="#111" text-anchor="end" stroke="#111" stroke-width="0.18">3</text>
<line x1="544.40" y1="332.68" x2="546.80" y2="332.68" stroke="#222" stroke-width="0.9"/>
<text x="543.20" y="334.50" font-size="6.2" font-weight="bold" fill="#111" text-anchor="end" stroke="#111" stroke-width="0.18">6</text>
<line x1="544.40" y1="308.47" x2="546.80" y2="308.47" stroke="#222" stroke-width="0.9"/>
<text x="543.20" y="310.29" font-size="6.2" font-weight="bold" fill="#111" text-anchor="end" stroke="#111" stroke-width="0.18">9</text>
<line x1="544.40" y1="284.26" x2="546.80" y2="284.26" stroke="#222" stroke-width="0.9"/>
<text x="543.20" y="286.08" font-size="6.2" font-weight="bold" fill="#111" text-anchor="end" stroke="#111" stroke-width="0.18">12</text>
<line x1="544.40" y1="272.16" x2="546.80" y2="272.16" stroke="#222" stroke-width="0.9"/>
<text x="543.20" y="273.97" font-size="6.2" font-weight="bold" fill="#111" text-anchor="end" stroke="#111" stroke-width="0.18">13.6</text>
<line x1="546.80" y1="381.10" x2="546.80" y2="383.50" stroke="#222" stroke-width="0.9"/>
<text x="546.80" y="390.08" font-size="5.8" font-weight="bold" fill="#111" text-anchor="middle" stroke="#111" stroke-width="0.18">0</text>
<line x1="571.66" y1="381.10" x2="571.66" y2="383.50" stroke="#222" stroke-width="0.9"/>
<text x="571.66" y="390.08" font-size="5.8" font-weight="bold" fill="#111" text-anchor="middle" stroke="#111" stroke-width="0.18">20</text>
<line x1="596.52" y1="381.10" x2="596.52" y2="383.50" stroke="#222" stroke-width="0.9"/>
<text x="596.52" y="390.08" font-size="5.8" font-weight="bold" fill="#111" text-anchor="middle" stroke="#111" stroke-width="0.18">40</text>
<line x1="621.38" y1="381.10" x2="621.38" y2="383.50" stroke="#222" stroke-width="0.9"/>
<text x="621.38" y="390.08" font-size="5.8" font-weight="bold" fill="#111" text-anchor="middle" stroke="#111" stroke-width="0.18">60</text>
<line x1="646.24" y1="381.10" x2="646.24" y2="383.50" stroke="#222" stroke-width="0.9"/>
<text x="646.24" y="390.08" font-size="5.8" font-weight="bold" fill="#111" text-anchor="middle" stroke="#111" stroke-width="0.18">80</text>
<line x1="671.10" y1="381.10" x2="671.10" y2="383.50" stroke="#222" stroke-width="0.9"/>
<text x="671.10" y="390.08" font-size="5.8" font-weight="bold" fill="#111" text-anchor="middle" stroke="#111" stroke-width="0.18">100</text>
<text x="568.60" y="287.29" font-size="8.9" font-weight="bold" fill="#111" text-anchor="start" textLength="69.40" lengthAdjust="spacingAndGlyphs" stroke="#111" stroke-width="0.18">Rh5-iKO/Rh5-tmut</text>
<circle cx="556.60" cy="323.70" r="1.3" fill="#179a5c"/>
<text x="559.80" y="326.42" font-size="7.6" font-weight="bold" fill="#179a5c" text-anchor="start" textLength="25.00" lengthAdjust="spacingAndGlyphs" stroke="#179a5c" stroke-width="0.18">Control</text>
<circle cx="556.60" cy="331.20" r="1.3" fill="#e64a2a"/>
<text x="559.80" y="333.92" font-size="7.6" font-weight="bold" fill="#e64a2a" text-anchor="start" textLength="17.00" lengthAdjust="spacingAndGlyphs" stroke="#e64a2a" stroke-width="0.18">Rapa</text>
<text transform="translate(533.40,342.60) rotate(-90)" x="0" y="0" font-size="7" font-weight="bold" fill="#111" text-anchor="middle" textLength="42.6" lengthAdjust="spacingAndGlyphs">Parasitaemia</text>
<text x="549.10" y="359.51" font-size="7.0" font-weight="normal" fill="#111" text-anchor="start" stroke="#111" stroke-width="0.18">iKO</text>
<line x1="552.20" y1="361.00" x2="552.20" y2="366.70" stroke="#111" stroke-width="0.9"/>
<path d="M550.95,365.40 L553.45,365.40 L552.20,369.20 Z" fill="#111"/>
<text x="584.00" y="400.21" font-size="7.0" font-weight="bold" fill="#111" text-anchor="start" textLength="61.20" lengthAdjust="spacingAndGlyphs" stroke="#111" stroke-width="0.18">IDC Progress (hpi)</text>
<text x="625.80" y="373.87" font-size="5.5" font-weight="normal" fill="#9a9a9a" text-anchor="start" textLength="21.00" lengthAdjust="spacingAndGlyphs" stroke="#9a9a9a" stroke-width="0.18">Schizont</text>
<text x="625.80" y="379.37" font-size="5.5" font-weight="normal" fill="#9a9a9a" text-anchor="start" textLength="18.60" lengthAdjust="spacingAndGlyphs" stroke="#9a9a9a" stroke-width="0.18">rupture</text>
<line x1="623.00" y1="374.80" x2="616.63" y2="376.39" stroke="#a8a8a8" stroke-width="0.9"/>
<path d="M614.20,377.00 L617.50,374.53 L618.27,377.63 Z" fill="#a8a8a8"/>
<line x1="649.00" y1="374.30" x2="656.37" y2="376.11" stroke="#a8a8a8" stroke-width="0.9"/>
<path d="M658.80,376.70 L654.73,377.35 L655.49,374.24 Z" fill="#a8a8a8"/>
<polyline points="552.20,373.90 577.40,373.60 583.00,373.50 605.20,362.40 612.90,349.10 633.60,346.20 642.60,349.50 663.00,318.70 671.70,280.40" fill="none" stroke="#179a5c" stroke-width="1.0" stroke-linejoin="round"/>
<polyline points="552.20,372.70 577.40,372.70 583.00,372.70 605.20,371.90 612.90,364.20 633.60,360.90 642.60,363.30 663.00,339.40 671.70,337.60" fill="none" stroke="#e64a2a" stroke-width="1.0" stroke-linejoin="round"/>
<circle cx="552.20" cy="373.90" r="1.45" fill="#179a5c"/>
<circle cx="583.00" cy="373.50" r="1.45" fill="#179a5c"/>
<circle cx="605.20" cy="359.60" r="1.45" fill="#179a5c"/>
<circle cx="605.20" cy="362.40" r="1.45" fill="#179a5c"/>
<circle cx="605.20" cy="366.90" r="1.45" fill="#179a5c"/>
<circle cx="612.90" cy="349.10" r="1.45" fill="#179a5c"/>
<circle cx="633.60" cy="341.80" r="1.45" fill="#179a5c"/>
<circle cx="633.60" cy="346.20" r="1.45" fill="#179a5c"/>
<circle cx="633.60" cy="350.40" r="1.45" fill="#179a5c"/>
<circle cx="642.60" cy="345.80" r="1.45" fill="#179a5c"/>
<circle cx="642.60" cy="349.50" r="1.45" fill="#179a5c"/>
<circle cx="642.60" cy="353.70" r="1.45" fill="#179a5c"/>
<circle cx="663.00" cy="316.90" r="1.45" fill="#179a5c"/>
<circle cx="663.00" cy="318.70" r="1.45" fill="#179a5c"/>
<circle cx="671.70" cy="271.30" r="1.45" fill="#179a5c"/>
<circle cx="671.70" cy="284.20" r="1.45" fill="#179a5c"/>
<circle cx="671.70" cy="291.10" r="1.45" fill="#179a5c"/>
<circle cx="552.20" cy="372.70" r="1.45" fill="#e64a2a"/>
<circle cx="577.40" cy="372.70" r="1.45" fill="#e64a2a"/>
<circle cx="583.00" cy="372.70" r="1.45" fill="#e64a2a"/>
<circle cx="605.20" cy="369.70" r="1.45" fill="#e64a2a"/>
<circle cx="605.20" cy="371.90" r="1.45" fill="#e64a2a"/>
<circle cx="605.20" cy="375.20" r="1.45" fill="#e64a2a"/>
<circle cx="612.90" cy="362.00" r="1.45" fill="#e64a2a"/>
<circle cx="612.90" cy="364.20" r="1.45" fill="#e64a2a"/>
<circle cx="633.60" cy="359.00" r="1.45" fill="#e64a2a"/>
<circle cx="633.60" cy="360.90" r="1.45" fill="#e64a2a"/>
<circle cx="642.60" cy="360.10" r="1.45" fill="#e64a2a"/>
<circle cx="642.60" cy="363.30" r="1.45" fill="#e64a2a"/>
<circle cx="642.60" cy="366.40" r="1.45" fill="#e64a2a"/>
<circle cx="663.00" cy="334.80" r="1.45" fill="#e64a2a"/>
<circle cx="663.00" cy="339.40" r="1.45" fill="#e64a2a"/>
<circle cx="663.00" cy="343.00" r="1.45" fill="#e64a2a"/>
<circle cx="671.70" cy="334.30" r="1.45" fill="#e64a2a"/>
<circle cx="671.70" cy="337.60" r="1.45" fill="#e64a2a"/>
<circle cx="671.70" cy="341.80" r="1.45" fill="#e64a2a"/>
<rect x="611.60" y="491.30" width="6.20" height="33.50" fill="#bdbdbd" stroke="none" stroke-width="0"/>
<rect x="665.20" y="424.40" width="6.70" height="100.40" fill="#bdbdbd" stroke="none" stroke-width="0"/>
<line x1="553.00" y1="428.40" x2="553.00" y2="525.30" stroke="#9a9a9a" stroke-width="1.4"/>
<line x1="552.50" y1="524.80" x2="672.00" y2="524.80" stroke="#222" stroke-width="1.0"/>
<line x1="550.60" y1="524.80" x2="553.00" y2="524.80" stroke="#222" stroke-width="0.9"/>
<text x="549.00" y="526.62" font-size="6.2" font-weight="bold" fill="#111" text-anchor="end" stroke="#111" stroke-width="0.18">0</text>
<line x1="550.60" y1="500.71" x2="553.00" y2="500.71" stroke="#222" stroke-width="0.9"/>
<text x="549.00" y="502.53" font-size="6.2" font-weight="bold" fill="#111" text-anchor="end" stroke="#111" stroke-width="0.18">3</text>
<line x1="550.60" y1="476.62" x2="553.00" y2="476.62" stroke="#222" stroke-width="0.9"/>
<text x="549.00" y="478.44" font-size="6.2" font-weight="bold" fill="#111" text-anchor="end" stroke="#111" stroke-width="0.18">6</text>
<line x1="550.60" y1="452.53" x2="553.00" y2="452.53" stroke="#222" stroke-width="0.9"/>
<text x="549.00" y="454.35" font-size="6.2" font-weight="bold" fill="#111" text-anchor="end" stroke="#111" stroke-width="0.18">9</text>
<line x1="550.60" y1="428.44" x2="553.00" y2="428.44" stroke="#222" stroke-width="0.9"/>
<text x="549.00" y="430.26" font-size="6.2" font-weight="bold" fill="#111" text-anchor="end" stroke="#111" stroke-width="0.18">12</text>
<line x1="553.00" y1="524.80" x2="553.00" y2="527.20" stroke="#222" stroke-width="0.9"/>
<text x="553.00" y="534.28" font-size="5.8" font-weight="bold" fill="#111" text-anchor="middle" stroke="#111" stroke-width="0.18">0</text>
<line x1="577.70" y1="524.80" x2="577.70" y2="527.20" stroke="#222" stroke-width="0.9"/>
<text x="577.70" y="534.28" font-size="5.8" font-weight="bold" fill="#111" text-anchor="middle" stroke="#111" stroke-width="0.18">20</text>
<line x1="602.40" y1="524.80" x2="602.40" y2="527.20" stroke="#222" stroke-width="0.9"/>
<text x="602.40" y="534.28" font-size="5.8" font-weight="bold" fill="#111" text-anchor="middle" stroke="#111" stroke-width="0.18">40</text>
<line x1="627.10" y1="524.80" x2="627.10" y2="527.20" stroke="#222" stroke-width="0.9"/>
<text x="627.10" y="534.28" font-size="5.8" font-weight="bold" fill="#111" text-anchor="middle" stroke="#111" stroke-width="0.18">60</text>
<line x1="649.33" y1="524.80" x2="649.33" y2="527.20" stroke="#222" stroke-width="0.9"/>
<text x="649.33" y="534.28" font-size="5.8" font-weight="bold" fill="#111" text-anchor="middle" stroke="#111" stroke-width="0.18">78</text>
<line x1="670.33" y1="524.80" x2="670.33" y2="527.20" stroke="#222" stroke-width="0.9"/>
<text x="670.33" y="534.28" font-size="5.8" font-weight="bold" fill="#111" text-anchor="middle" stroke="#111" stroke-width="0.18">95</text>
<text x="562.90" y="437.39" font-size="8.9" font-weight="bold" fill="#111" text-anchor="start" textLength="87.10" lengthAdjust="spacingAndGlyphs" stroke="#111" stroke-width="0.18">Rh5-iKO/Rh5<tspan font-weight="normal" stroke-width="0.25" font-size="7.57">∆</tspan>PDcomp</text>
<circle cx="562.60" cy="460.70" r="1.3" fill="#179a5c"/>
<text x="566.50" y="463.42" font-size="7.6" font-weight="bold" fill="#179a5c" text-anchor="start" textLength="25.00" lengthAdjust="spacingAndGlyphs" stroke="#179a5c" stroke-width="0.18">Control</text>
<circle cx="562.60" cy="468.20" r="1.3" fill="#e64a2a"/>
<text x="566.50" y="470.92" font-size="7.6" font-weight="bold" fill="#e64a2a" text-anchor="start" textLength="17.00" lengthAdjust="spacingAndGlyphs" stroke="#e64a2a" stroke-width="0.18">Rapa</text>
<text transform="translate(538.40,478.20) rotate(-90)" x="0" y="0" font-size="7" font-weight="bold" fill="#111" text-anchor="middle" textLength="42.6" lengthAdjust="spacingAndGlyphs">Parasitaemia</text>
<text x="556.00" y="503.01" font-size="7.0" font-weight="normal" fill="#111" text-anchor="start" stroke="#111" stroke-width="0.18">iKO</text>
<line x1="558.50" y1="507.60" x2="558.50" y2="512.60" stroke="#111" stroke-width="0.9"/>
<path d="M557.25,511.30 L559.75,511.30 L558.50,515.10 Z" fill="#111"/>
<text x="583.10" y="543.21" font-size="7.0" font-weight="bold" fill="#111" text-anchor="start" textLength="61.20" lengthAdjust="spacingAndGlyphs" stroke="#111" stroke-width="0.18">IDC Progress (hpi)</text>
<text x="632.20" y="502.97" font-size="5.5" font-weight="normal" fill="#9a9a9a" text-anchor="start" textLength="21.00" lengthAdjust="spacingAndGlyphs" stroke="#9a9a9a" stroke-width="0.18">Schizont</text>
<text x="632.20" y="507.97" font-size="5.5" font-weight="normal" fill="#9a9a9a" text-anchor="start" textLength="18.60" lengthAdjust="spacingAndGlyphs" stroke="#9a9a9a" stroke-width="0.18">rupture</text>
<line x1="629.70" y1="503.00" x2="622.82" y2="505.77" stroke="#a8a8a8" stroke-width="0.9"/>
<path d="M620.50,506.70 L623.43,503.80 L624.62,506.77 Z" fill="#a8a8a8"/>
<line x1="654.50" y1="503.70" x2="660.84" y2="505.89" stroke="#a8a8a8" stroke-width="0.9"/>
<path d="M663.20,506.70 L659.09,506.97 L660.13,503.95 Z" fill="#a8a8a8"/>
<polyline points="558.50,518.60 583.40,517.80 589.00,517.40 611.10,501.70 619.00,493.80 641.10,486.40 650.00,488.00 670.60,430.00" fill="none" stroke="#179a5c" stroke-width="1.0" stroke-linejoin="round"/>
<polyline points="558.50,517.80 583.40,517.70 589.00,517.60 611.10,517.90 619.00,519.50 641.10,518.40 650.00,516.80 670.60,517.40" fill="none" stroke="#e64a2a" stroke-width="1.0" stroke-linejoin="round"/>
<circle cx="558.50" cy="518.60" r="1.45" fill="#179a5c"/>
<circle cx="589.00" cy="517.60" r="1.45" fill="#179a5c"/>
<circle cx="611.10" cy="499.80" r="1.45" fill="#179a5c"/>
<circle cx="611.10" cy="501.50" r="1.45" fill="#179a5c"/>
<circle cx="611.10" cy="503.70" r="1.45" fill="#179a5c"/>
<circle cx="619.00" cy="491.80" r="1.45" fill="#179a5c"/>
<circle cx="619.00" cy="493.50" r="1.45" fill="#179a5c"/>
<circle cx="619.00" cy="494.80" r="1.45" fill="#179a5c"/>
<circle cx="641.10" cy="481.20" r="1.45" fill="#179a5c"/>
<circle cx="641.10" cy="486.40" r="1.45" fill="#179a5c"/>
<circle cx="641.10" cy="491.30" r="1.45" fill="#179a5c"/>
<circle cx="650.00" cy="486.90" r="1.45" fill="#179a5c"/>
<circle cx="650.00" cy="491.30" r="1.45" fill="#179a5c"/>
<circle cx="670.60" cy="421.90" r="1.45" fill="#179a5c"/>
<circle cx="670.60" cy="426.10" r="1.45" fill="#179a5c"/>
<circle cx="670.60" cy="432.80" r="1.45" fill="#179a5c"/>
<circle cx="558.50" cy="517.60" r="1.45" fill="#e64a2a"/>
<circle cx="583.40" cy="517.60" r="1.45" fill="#e64a2a"/>
<circle cx="589.00" cy="517.50" r="1.45" fill="#e64a2a"/>
<circle cx="611.10" cy="517.90" r="1.45" fill="#e64a2a"/>
<circle cx="619.00" cy="519.10" r="1.45" fill="#e64a2a"/>
<circle cx="619.00" cy="520.30" r="1.45" fill="#e64a2a"/>
<circle cx="641.10" cy="518.40" r="1.45" fill="#e64a2a"/>
<circle cx="650.00" cy="516.60" r="1.45" fill="#e64a2a"/>
<circle cx="650.00" cy="518.60" r="1.45" fill="#e64a2a"/>
<circle cx="670.60" cy="517.40" r="1.45" fill="#e64a2a"/>
</svg></body></html>
